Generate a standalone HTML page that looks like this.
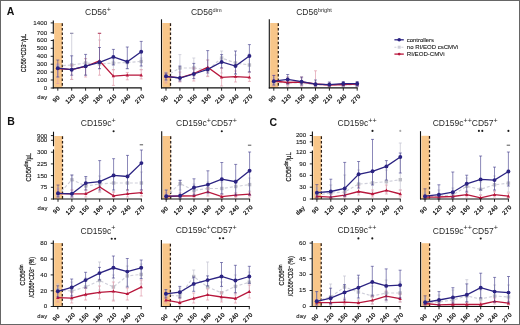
<!DOCTYPE html><html><head><meta charset="utf-8"><style>html,body{margin:0;padding:0;background:#fff;}svg{display:block;filter:blur(0.25px);font-family:"Liberation Sans",sans-serif;}text.t{stroke:#1a1a1a;stroke-width:0.1px;}text.xl{stroke:#1a1a1a;stroke-width:0.3px;}text.yt{stroke:#1a1a1a;stroke-width:0.22px;}</style></head><body>
<svg width="520" height="325" viewBox="0 0 520 325">
<rect x="0" y="0" width="520" height="325" fill="#fff"/>
<rect x="54.2" y="23" width="8.1" height="64.9" fill="#f8c689"/>
<line x1="62.3" y1="23" x2="62.3" y2="87.9" stroke="#2a1c14" stroke-width="1.25" stroke-dasharray="2.6,2.0" stroke-dashoffset="-0.3"/>
<path d="M57.8 64.1V77M56.3 64.1H59.3M56.3 77H59.3" stroke="#c4c4d2" stroke-opacity="0.9" stroke-width="0.8" fill="none"/>
<path d="M71.7 33.3V79.5M70.2 33.3H73.2M70.2 79.5H73.2" stroke="#c4c4d2" stroke-opacity="0.9" stroke-width="0.8" fill="none"/>
<path d="M85.6 58.6V75M84.1 58.6H87.1M84.1 75H87.1" stroke="#c4c4d2" stroke-opacity="0.9" stroke-width="0.8" fill="none"/>
<path d="M99.5 40V68.7M98 40H101M98 68.7H101" stroke="#c4c4d2" stroke-opacity="0.9" stroke-width="0.8" fill="none"/>
<path d="M113.4 60V69.7M111.9 60H114.9M111.9 69.7H114.9" stroke="#c4c4d2" stroke-opacity="0.9" stroke-width="0.8" fill="none"/>
<path d="M127.3 60V68.7M125.8 60H128.8M125.8 68.7H128.8" stroke="#c4c4d2" stroke-opacity="0.9" stroke-width="0.8" fill="none"/>
<path d="M141.2 58V69.7M139.7 58H142.7M139.7 69.7H142.7" stroke="#c4c4d2" stroke-opacity="0.9" stroke-width="0.8" fill="none"/>
<polyline points="57.8,66 71.7,65 85.6,63 99.5,64 113.4,63 127.3,62.5 141.2,61.4" fill="none" stroke="#cfcfda" stroke-width="1.15" stroke-dasharray="3,2"/>
<rect x="56.1" y="64.3" width="3.4" height="3.4" fill="#bdbdc6"/>
<rect x="70" y="63.3" width="3.4" height="3.4" fill="#bdbdc6"/>
<rect x="83.9" y="61.3" width="3.4" height="3.4" fill="#bdbdc6"/>
<rect x="97.8" y="62.3" width="3.4" height="3.4" fill="#bdbdc6"/>
<rect x="111.7" y="61.3" width="3.4" height="3.4" fill="#bdbdc6"/>
<rect x="125.6" y="60.8" width="3.4" height="3.4" fill="#bdbdc6"/>
<rect x="139.5" y="59.7" width="3.4" height="3.4" fill="#bdbdc6"/>
<path d="M57.8 64V83.5M56.3 64H59.3M56.3 83.5H59.3" stroke="#e09aab" stroke-opacity="0.85" stroke-width="0.8" fill="none"/>
<path d="M71.7 65V79.4M70.2 65H73.2M70.2 79.4H73.2" stroke="#e09aab" stroke-opacity="0.85" stroke-width="0.8" fill="none"/>
<path d="M85.6 58.6V77M84.1 58.6H87.1M84.1 77H87.1" stroke="#e09aab" stroke-opacity="0.85" stroke-width="0.8" fill="none"/>
<path d="M99.5 33.3V75.2M98 33.3H101M98 75.2H101" stroke="#e09aab" stroke-opacity="0.85" stroke-width="0.8" fill="none"/>
<path d="M113.4 69.7V85.4M111.9 69.7H114.9M111.9 85.4H114.9" stroke="#e09aab" stroke-opacity="0.85" stroke-width="0.8" fill="none"/>
<path d="M127.3 72.4V79.8M125.8 72.4H128.8M125.8 79.8H128.8" stroke="#e09aab" stroke-opacity="0.85" stroke-width="0.8" fill="none"/>
<path d="M141.2 69.7V78.9M139.7 69.7H142.7M139.7 78.9H142.7" stroke="#e09aab" stroke-opacity="0.85" stroke-width="0.8" fill="none"/>
<polyline points="57.8,68.5 71.7,69.7 85.6,66.5 99.5,60.8 113.4,76.1 127.3,75.2 141.2,75.2" fill="none" stroke="#b8173c" stroke-width="1.3"/>
<path d="M57.8 66.6L59.5 69.7H56.1Z" fill="#b8173c"/>
<path d="M71.7 67.8L73.4 70.9H70Z" fill="#b8173c"/>
<path d="M85.6 64.6L87.3 67.7H83.9Z" fill="#b8173c"/>
<path d="M99.5 58.9L101.2 62H97.8Z" fill="#b8173c"/>
<path d="M113.4 74.2L115.1 77.3H111.7Z" fill="#b8173c"/>
<path d="M127.3 73.3L129 76.4H125.6Z" fill="#b8173c"/>
<path d="M141.2 73.3L142.9 76.4H139.5Z" fill="#b8173c"/>
<path d="M57.8 60V77M56.3 60H59.3M56.3 77H59.3" stroke="#3a3588" stroke-opacity="0.9" stroke-width="0.65" fill="none"/>
<path d="M71.7 55.8V75.2M70.2 55.8H73.2M70.2 75.2H73.2" stroke="#3a3588" stroke-opacity="0.9" stroke-width="0.65" fill="none"/>
<path d="M85.6 54.4V75.2M84.1 54.4H87.1M84.1 75.2H87.1" stroke="#3a3588" stroke-opacity="0.9" stroke-width="0.65" fill="none"/>
<path d="M99.5 47.5V68.7M98 47.5H101M98 68.7H101" stroke="#3a3588" stroke-opacity="0.9" stroke-width="0.65" fill="none"/>
<path d="M113.4 49.4V65M111.9 49.4H114.9M111.9 65H114.9" stroke="#3a3588" stroke-opacity="0.9" stroke-width="0.65" fill="none"/>
<path d="M127.3 47V68.7M125.8 47H128.8M125.8 68.7H128.8" stroke="#3a3588" stroke-opacity="0.9" stroke-width="0.65" fill="none"/>
<path d="M141.2 41.4V66M139.7 41.4H142.7M139.7 66H142.7" stroke="#3a3588" stroke-opacity="0.9" stroke-width="0.65" fill="none"/>
<polyline points="57.8,68.2 71.7,69.7 85.6,66.2 99.5,62.3 113.4,56.9 127.3,61.7 141.2,51.8" fill="none" stroke="#2b2382" stroke-width="1.3"/>
<circle cx="57.8" cy="68.2" r="1.95" fill="#2b2382"/>
<circle cx="71.7" cy="69.7" r="1.95" fill="#2b2382"/>
<circle cx="85.6" cy="66.2" r="1.95" fill="#2b2382"/>
<circle cx="99.5" cy="62.3" r="1.95" fill="#2b2382"/>
<circle cx="113.4" cy="56.9" r="1.95" fill="#2b2382"/>
<circle cx="127.3" cy="61.7" r="1.95" fill="#2b2382"/>
<circle cx="141.2" cy="51.8" r="1.95" fill="#2b2382"/>
<line x1="70" y1="33.3" x2="73.4" y2="33.3" stroke="#8a88a8" stroke-width="1.0" />
<line x1="97.8" y1="33.3" x2="101.2" y2="33.3" stroke="#b04060" stroke-width="1.0" />
<line x1="53.3" y1="20.5" x2="53.3" y2="33.8" stroke="#111" stroke-width="1.1" />
<line x1="53.3" y1="39.2" x2="53.3" y2="88.4" stroke="#111" stroke-width="1.1" />
<line x1="52.8" y1="87.9" x2="141.7" y2="87.9" stroke="#111" stroke-width="1.1" />
<line x1="57.8" y1="87.9" x2="57.8" y2="90.7" stroke="#111" stroke-width="0.9" />
<line x1="71.7" y1="87.9" x2="71.7" y2="90.7" stroke="#111" stroke-width="0.9" />
<line x1="85.6" y1="87.9" x2="85.6" y2="90.7" stroke="#111" stroke-width="0.9" />
<line x1="99.5" y1="87.9" x2="99.5" y2="90.7" stroke="#111" stroke-width="0.9" />
<line x1="113.4" y1="87.9" x2="113.4" y2="90.7" stroke="#111" stroke-width="0.9" />
<line x1="127.3" y1="87.9" x2="127.3" y2="90.7" stroke="#111" stroke-width="0.9" />
<line x1="141.2" y1="87.9" x2="141.2" y2="90.7" stroke="#111" stroke-width="0.9" />
<line x1="50.7" y1="22.9" x2="53.3" y2="22.9" stroke="#111" stroke-width="0.9" />
<text transform="translate(47.1,24.8) scale(1.15,1)" font-size="5.4" text-anchor="end" fill="#1a1a1a" class="t">1400</text>
<line x1="50.7" y1="32.8" x2="53.3" y2="32.8" stroke="#111" stroke-width="0.9" />
<text transform="translate(47.1,34.7) scale(1.15,1)" font-size="5.4" text-anchor="end" fill="#1a1a1a" class="t">700</text>
<line x1="50.7" y1="40.5" x2="53.3" y2="40.5" stroke="#111" stroke-width="0.9" />
<text transform="translate(47.1,42.4) scale(1.15,1)" font-size="5.4" text-anchor="end" fill="#1a1a1a" class="t">600</text>
<line x1="50.7" y1="48.3" x2="53.3" y2="48.3" stroke="#111" stroke-width="0.9" />
<text transform="translate(47.1,50.2) scale(1.15,1)" font-size="5.4" text-anchor="end" fill="#1a1a1a" class="t">500</text>
<line x1="50.7" y1="56.3" x2="53.3" y2="56.3" stroke="#111" stroke-width="0.9" />
<text transform="translate(47.1,58.2) scale(1.15,1)" font-size="5.4" text-anchor="end" fill="#1a1a1a" class="t">400</text>
<line x1="50.7" y1="64.2" x2="53.3" y2="64.2" stroke="#111" stroke-width="0.9" />
<text transform="translate(47.1,66.1) scale(1.15,1)" font-size="5.4" text-anchor="end" fill="#1a1a1a" class="t">300</text>
<line x1="50.7" y1="72.1" x2="53.3" y2="72.1" stroke="#111" stroke-width="0.9" />
<text transform="translate(47.1,74) scale(1.15,1)" font-size="5.4" text-anchor="end" fill="#1a1a1a" class="t">200</text>
<line x1="50.7" y1="80" x2="53.3" y2="80" stroke="#111" stroke-width="0.9" />
<text transform="translate(47.1,81.9) scale(1.15,1)" font-size="5.4" text-anchor="end" fill="#1a1a1a" class="t">100</text>
<line x1="50.7" y1="88" x2="53.3" y2="88" stroke="#111" stroke-width="0.9" />
<text transform="translate(47.1,89.9) scale(1.15,1)" font-size="5.4" text-anchor="end" fill="#1a1a1a" class="t">0</text>
<text transform="translate(57.7,100.2) rotate(-45)" font-size="5.8" text-anchor="middle" fill="#1a1a1a" letter-spacing="0.45" class="xl">90</text>
<text transform="translate(71.6,100.2) rotate(-45)" font-size="5.8" text-anchor="middle" fill="#1a1a1a" letter-spacing="0.45" class="xl">120</text>
<text transform="translate(85.5,100.2) rotate(-45)" font-size="5.8" text-anchor="middle" fill="#1a1a1a" letter-spacing="0.45" class="xl">150</text>
<text transform="translate(99.4,100.2) rotate(-45)" font-size="5.8" text-anchor="middle" fill="#1a1a1a" letter-spacing="0.45" class="xl">180</text>
<text transform="translate(113.3,100.2) rotate(-45)" font-size="5.8" text-anchor="middle" fill="#1a1a1a" letter-spacing="0.45" class="xl">210</text>
<text transform="translate(127.2,100.2) rotate(-45)" font-size="5.8" text-anchor="middle" fill="#1a1a1a" letter-spacing="0.45" class="xl">240</text>
<text transform="translate(141.1,100.2) rotate(-45)" font-size="5.8" text-anchor="middle" fill="#1a1a1a" letter-spacing="0.45" class="xl">270</text>
<text x="42.4" y="99.3" font-size="5.9" text-anchor="middle" fill="#1a1a1a" font-weight="normal" letter-spacing="0.2" class="t">day</text>
<text x="98.05" y="15.4" font-size="8.5" text-anchor="middle" fill="#2a2a2a"><tspan dy="0">CD56</tspan><tspan font-size="7.2" dy="-3.3">+</tspan></text>
<rect x="162.4" y="23" width="8.1" height="64.9" fill="#f8c689"/>
<line x1="170.5" y1="23" x2="170.5" y2="87.9" stroke="#2a1c14" stroke-width="1.25" stroke-dasharray="2.6,2.0" stroke-dashoffset="-0.3"/>
<path d="M166 72V81M164.5 72H167.5M164.5 81H167.5" stroke="#c4c4d2" stroke-opacity="0.9" stroke-width="0.8" fill="none"/>
<path d="M179.9 54.6V81M178.4 54.6H181.4M178.4 81H181.4" stroke="#c4c4d2" stroke-opacity="0.9" stroke-width="0.8" fill="none"/>
<path d="M193.8 58V76M192.3 58H195.3M192.3 76H195.3" stroke="#c4c4d2" stroke-opacity="0.9" stroke-width="0.8" fill="none"/>
<path d="M207.7 60V76M206.2 60H209.2M206.2 76H209.2" stroke="#c4c4d2" stroke-opacity="0.9" stroke-width="0.8" fill="none"/>
<path d="M221.6 51V73M220.1 51H223.1M220.1 73H223.1" stroke="#c4c4d2" stroke-opacity="0.9" stroke-width="0.8" fill="none"/>
<path d="M235.5 55V74M234 55H237M234 74H237" stroke="#c4c4d2" stroke-opacity="0.9" stroke-width="0.8" fill="none"/>
<path d="M249.4 54V72M247.9 54H250.9M247.9 72H250.9" stroke="#c4c4d2" stroke-opacity="0.9" stroke-width="0.8" fill="none"/>
<polyline points="166,76 179.9,68 193.8,68 207.7,70 221.6,58 235.5,63 249.4,65" fill="none" stroke="#cfcfda" stroke-width="1.15" stroke-dasharray="3,2"/>
<rect x="164.3" y="74.3" width="3.4" height="3.4" fill="#bdbdc6"/>
<rect x="178.2" y="66.3" width="3.4" height="3.4" fill="#bdbdc6"/>
<rect x="192.1" y="66.3" width="3.4" height="3.4" fill="#bdbdc6"/>
<rect x="206" y="68.3" width="3.4" height="3.4" fill="#bdbdc6"/>
<rect x="219.9" y="56.3" width="3.4" height="3.4" fill="#bdbdc6"/>
<rect x="233.8" y="61.3" width="3.4" height="3.4" fill="#bdbdc6"/>
<rect x="247.7" y="63.3" width="3.4" height="3.4" fill="#bdbdc6"/>
<path d="M166 73V83M164.5 73H167.5M164.5 83H167.5" stroke="#e09aab" stroke-opacity="0.85" stroke-width="0.8" fill="none"/>
<path d="M179.9 72V82M178.4 72H181.4M178.4 82H181.4" stroke="#e09aab" stroke-opacity="0.85" stroke-width="0.8" fill="none"/>
<path d="M193.8 68V81M192.3 68H195.3M192.3 81H195.3" stroke="#e09aab" stroke-opacity="0.85" stroke-width="0.8" fill="none"/>
<path d="M207.7 60V76.6M206.2 60H209.2M206.2 76.6H209.2" stroke="#e09aab" stroke-opacity="0.85" stroke-width="0.8" fill="none"/>
<path d="M221.6 68V86M220.1 68H223.1M220.1 86H223.1" stroke="#e09aab" stroke-opacity="0.85" stroke-width="0.8" fill="none"/>
<path d="M235.5 71V82M234 71H237M234 82H237" stroke="#e09aab" stroke-opacity="0.85" stroke-width="0.8" fill="none"/>
<path d="M249.4 72V81.4M247.9 72H250.9M247.9 81.4H250.9" stroke="#e09aab" stroke-opacity="0.85" stroke-width="0.8" fill="none"/>
<polyline points="166,76.5 179.9,77.9 193.8,73.5 207.7,67.3 221.6,77.4 235.5,76.6 249.4,77.4" fill="none" stroke="#b8173c" stroke-width="1.3"/>
<path d="M166 74.6L167.7 77.7H164.3Z" fill="#b8173c"/>
<path d="M179.9 76L181.6 79.1H178.2Z" fill="#b8173c"/>
<path d="M193.8 71.6L195.5 74.7H192.1Z" fill="#b8173c"/>
<path d="M207.7 65.4L209.4 68.5H206Z" fill="#b8173c"/>
<path d="M221.6 75.5L223.3 78.6H219.9Z" fill="#b8173c"/>
<path d="M235.5 74.7L237.2 77.8H233.8Z" fill="#b8173c"/>
<path d="M249.4 75.5L251.1 78.6H247.7Z" fill="#b8173c"/>
<path d="M166 73V80M164.5 73H167.5M164.5 80H167.5" stroke="#3a3588" stroke-opacity="0.9" stroke-width="0.65" fill="none"/>
<path d="M179.9 66V81M178.4 66H181.4M178.4 81H181.4" stroke="#3a3588" stroke-opacity="0.9" stroke-width="0.65" fill="none"/>
<path d="M193.8 63.4V78.6M192.3 63.4H195.3M192.3 78.6H195.3" stroke="#3a3588" stroke-opacity="0.9" stroke-width="0.65" fill="none"/>
<path d="M207.7 50.6V73M206.2 50.6H209.2M206.2 73H209.2" stroke="#3a3588" stroke-opacity="0.9" stroke-width="0.65" fill="none"/>
<path d="M221.6 54.6V68M220.1 54.6H223.1M220.1 68H223.1" stroke="#3a3588" stroke-opacity="0.9" stroke-width="0.65" fill="none"/>
<path d="M235.5 51V74M234 51H237M234 74H237" stroke="#3a3588" stroke-opacity="0.9" stroke-width="0.65" fill="none"/>
<path d="M249.4 44.6V72M247.9 44.6H250.9M247.9 72H250.9" stroke="#3a3588" stroke-opacity="0.9" stroke-width="0.65" fill="none"/>
<polyline points="166,76.3 179.9,78 193.8,74 207.7,69.4 221.6,62 235.5,66 249.4,56" fill="none" stroke="#2b2382" stroke-width="1.3"/>
<circle cx="166" cy="76.3" r="1.95" fill="#2b2382"/>
<circle cx="179.9" cy="78" r="1.95" fill="#2b2382"/>
<circle cx="193.8" cy="74" r="1.95" fill="#2b2382"/>
<circle cx="207.7" cy="69.4" r="1.95" fill="#2b2382"/>
<circle cx="221.6" cy="62" r="1.95" fill="#2b2382"/>
<circle cx="235.5" cy="66" r="1.95" fill="#2b2382"/>
<circle cx="249.4" cy="56" r="1.95" fill="#2b2382"/>
<line x1="161.5" y1="19.3" x2="161.5" y2="88.4" stroke="#111" stroke-width="1.1" />
<line x1="161" y1="87.9" x2="249.9" y2="87.9" stroke="#111" stroke-width="1.1" />
<line x1="166" y1="87.9" x2="166" y2="90.7" stroke="#111" stroke-width="0.9" />
<line x1="179.9" y1="87.9" x2="179.9" y2="90.7" stroke="#111" stroke-width="0.9" />
<line x1="193.8" y1="87.9" x2="193.8" y2="90.7" stroke="#111" stroke-width="0.9" />
<line x1="207.7" y1="87.9" x2="207.7" y2="90.7" stroke="#111" stroke-width="0.9" />
<line x1="221.6" y1="87.9" x2="221.6" y2="90.7" stroke="#111" stroke-width="0.9" />
<line x1="235.5" y1="87.9" x2="235.5" y2="90.7" stroke="#111" stroke-width="0.9" />
<line x1="249.4" y1="87.9" x2="249.4" y2="90.7" stroke="#111" stroke-width="0.9" />
<text transform="translate(165.9,100.2) rotate(-45)" font-size="5.8" text-anchor="middle" fill="#1a1a1a" letter-spacing="0.45" class="xl">90</text>
<text transform="translate(179.8,100.2) rotate(-45)" font-size="5.8" text-anchor="middle" fill="#1a1a1a" letter-spacing="0.45" class="xl">120</text>
<text transform="translate(193.7,100.2) rotate(-45)" font-size="5.8" text-anchor="middle" fill="#1a1a1a" letter-spacing="0.45" class="xl">150</text>
<text transform="translate(207.6,100.2) rotate(-45)" font-size="5.8" text-anchor="middle" fill="#1a1a1a" letter-spacing="0.45" class="xl">180</text>
<text transform="translate(221.5,100.2) rotate(-45)" font-size="5.8" text-anchor="middle" fill="#1a1a1a" letter-spacing="0.45" class="xl">210</text>
<text transform="translate(235.4,100.2) rotate(-45)" font-size="5.8" text-anchor="middle" fill="#1a1a1a" letter-spacing="0.45" class="xl">240</text>
<text transform="translate(249.3,100.2) rotate(-45)" font-size="5.8" text-anchor="middle" fill="#1a1a1a" letter-spacing="0.45" class="xl">270</text>
<text x="206.25" y="15.2" font-size="8.5" text-anchor="middle" fill="#2a2a2a"><tspan dy="0">CD56</tspan><tspan font-size="5.6" dy="-3.3">dim</tspan></text>
<rect x="270.2" y="23" width="8.1" height="64.9" fill="#f8c689"/>
<line x1="278.3" y1="23" x2="278.3" y2="87.9" stroke="#2a1c14" stroke-width="1.25" stroke-dasharray="2.6,2.0" stroke-dashoffset="-0.3"/>
<path d="M273.8 78V85M272.3 78H275.3M272.3 85H275.3" stroke="#c4c4d2" stroke-opacity="0.9" stroke-width="0.8" fill="none"/>
<path d="M287.7 77V86M286.2 77H289.2M286.2 86H289.2" stroke="#c4c4d2" stroke-opacity="0.9" stroke-width="0.8" fill="none"/>
<path d="M301.6 78V86M300.1 78H303.1M300.1 86H303.1" stroke="#c4c4d2" stroke-opacity="0.9" stroke-width="0.8" fill="none"/>
<path d="M315.5 82V87M314 82H317M314 87H317" stroke="#c4c4d2" stroke-opacity="0.9" stroke-width="0.8" fill="none"/>
<path d="M329.4 83V87M327.9 83H330.9M327.9 87H330.9" stroke="#c4c4d2" stroke-opacity="0.9" stroke-width="0.8" fill="none"/>
<path d="M343.3 83V87M341.8 83H344.8M341.8 87H344.8" stroke="#c4c4d2" stroke-opacity="0.9" stroke-width="0.8" fill="none"/>
<path d="M357.2 83V87M355.7 83H358.7M355.7 87H358.7" stroke="#c4c4d2" stroke-opacity="0.9" stroke-width="0.8" fill="none"/>
<polyline points="273.8,82 287.7,83 301.6,83 315.5,85 329.4,85 343.3,85 357.2,85" fill="none" stroke="#cfcfda" stroke-width="1.15" stroke-dasharray="3,2"/>
<rect x="272.1" y="80.3" width="3.4" height="3.4" fill="#bdbdc6"/>
<rect x="286" y="81.3" width="3.4" height="3.4" fill="#bdbdc6"/>
<rect x="299.9" y="81.3" width="3.4" height="3.4" fill="#bdbdc6"/>
<rect x="313.8" y="83.3" width="3.4" height="3.4" fill="#bdbdc6"/>
<rect x="327.7" y="83.3" width="3.4" height="3.4" fill="#bdbdc6"/>
<rect x="341.6" y="83.3" width="3.4" height="3.4" fill="#bdbdc6"/>
<rect x="355.5" y="83.3" width="3.4" height="3.4" fill="#bdbdc6"/>
<path d="M273.8 75V86M272.3 75H275.3M272.3 86H275.3" stroke="#e09aab" stroke-opacity="0.85" stroke-width="0.8" fill="none"/>
<path d="M287.7 77V86M286.2 77H289.2M286.2 86H289.2" stroke="#e09aab" stroke-opacity="0.85" stroke-width="0.8" fill="none"/>
<path d="M301.6 77V86M300.1 77H303.1M300.1 86H303.1" stroke="#e09aab" stroke-opacity="0.85" stroke-width="0.8" fill="none"/>
<path d="M315.5 70.8V87M314 70.8H317M314 87H317" stroke="#e09aab" stroke-opacity="0.85" stroke-width="0.8" fill="none"/>
<path d="M329.4 83V87M327.9 83H330.9M327.9 87H330.9" stroke="#e09aab" stroke-opacity="0.85" stroke-width="0.8" fill="none"/>
<path d="M343.3 83V86M341.8 83H344.8M341.8 86H344.8" stroke="#e09aab" stroke-opacity="0.85" stroke-width="0.8" fill="none"/>
<path d="M357.2 83V86M355.7 83H358.7M355.7 86H358.7" stroke="#e09aab" stroke-opacity="0.85" stroke-width="0.8" fill="none"/>
<polyline points="273.8,81 287.7,82.5 301.6,82 315.5,84 329.4,85 343.3,84.5 357.2,84" fill="none" stroke="#b8173c" stroke-width="1.3"/>
<path d="M273.8 79.1L275.5 82.2H272.1Z" fill="#b8173c"/>
<path d="M287.7 80.6L289.4 83.7H286Z" fill="#b8173c"/>
<path d="M301.6 80.1L303.3 83.2H299.9Z" fill="#b8173c"/>
<path d="M315.5 82.1L317.2 85.2H313.8Z" fill="#b8173c"/>
<path d="M329.4 83.1L331.1 86.2H327.7Z" fill="#b8173c"/>
<path d="M343.3 82.6L345 85.7H341.6Z" fill="#b8173c"/>
<path d="M357.2 82.1L358.9 85.2H355.5Z" fill="#b8173c"/>
<path d="M273.8 75.5V85M272.3 75.5H275.3M272.3 85H275.3" stroke="#3a3588" stroke-opacity="0.9" stroke-width="0.65" fill="none"/>
<path d="M287.7 74.5V84M286.2 74.5H289.2M286.2 84H289.2" stroke="#3a3588" stroke-opacity="0.9" stroke-width="0.65" fill="none"/>
<path d="M301.6 77V85M300.1 77H303.1M300.1 85H303.1" stroke="#3a3588" stroke-opacity="0.9" stroke-width="0.65" fill="none"/>
<path d="M315.5 80V86M314 80H317M314 86H317" stroke="#3a3588" stroke-opacity="0.9" stroke-width="0.65" fill="none"/>
<path d="M329.4 82V86M327.9 82H330.9M327.9 86H330.9" stroke="#3a3588" stroke-opacity="0.9" stroke-width="0.65" fill="none"/>
<path d="M343.3 81.5V86M341.8 81.5H344.8M341.8 86H344.8" stroke="#3a3588" stroke-opacity="0.9" stroke-width="0.65" fill="none"/>
<path d="M357.2 81.5V86M355.7 81.5H358.7M355.7 86H358.7" stroke="#3a3588" stroke-opacity="0.9" stroke-width="0.65" fill="none"/>
<polyline points="273.8,81.2 287.7,79.4 301.6,81.7 315.5,84.2 329.4,84.6 343.3,83.7 357.2,83.7" fill="none" stroke="#2b2382" stroke-width="1.3"/>
<circle cx="273.8" cy="81.2" r="1.95" fill="#2b2382"/>
<circle cx="287.7" cy="79.4" r="1.95" fill="#2b2382"/>
<circle cx="301.6" cy="81.7" r="1.95" fill="#2b2382"/>
<circle cx="315.5" cy="84.2" r="1.95" fill="#2b2382"/>
<circle cx="329.4" cy="84.6" r="1.95" fill="#2b2382"/>
<circle cx="343.3" cy="83.7" r="1.95" fill="#2b2382"/>
<circle cx="357.2" cy="83.7" r="1.95" fill="#2b2382"/>
<line x1="269.3" y1="19.3" x2="269.3" y2="88.4" stroke="#111" stroke-width="1.1" />
<line x1="268.8" y1="87.9" x2="357.7" y2="87.9" stroke="#111" stroke-width="1.1" />
<line x1="273.8" y1="87.9" x2="273.8" y2="90.7" stroke="#111" stroke-width="0.9" />
<line x1="287.7" y1="87.9" x2="287.7" y2="90.7" stroke="#111" stroke-width="0.9" />
<line x1="301.6" y1="87.9" x2="301.6" y2="90.7" stroke="#111" stroke-width="0.9" />
<line x1="315.5" y1="87.9" x2="315.5" y2="90.7" stroke="#111" stroke-width="0.9" />
<line x1="329.4" y1="87.9" x2="329.4" y2="90.7" stroke="#111" stroke-width="0.9" />
<line x1="343.3" y1="87.9" x2="343.3" y2="90.7" stroke="#111" stroke-width="0.9" />
<line x1="357.2" y1="87.9" x2="357.2" y2="90.7" stroke="#111" stroke-width="0.9" />
<text transform="translate(273.7,100.2) rotate(-45)" font-size="5.8" text-anchor="middle" fill="#1a1a1a" letter-spacing="0.45" class="xl">90</text>
<text transform="translate(287.6,100.2) rotate(-45)" font-size="5.8" text-anchor="middle" fill="#1a1a1a" letter-spacing="0.45" class="xl">120</text>
<text transform="translate(301.5,100.2) rotate(-45)" font-size="5.8" text-anchor="middle" fill="#1a1a1a" letter-spacing="0.45" class="xl">150</text>
<text transform="translate(315.4,100.2) rotate(-45)" font-size="5.8" text-anchor="middle" fill="#1a1a1a" letter-spacing="0.45" class="xl">180</text>
<text transform="translate(329.3,100.2) rotate(-45)" font-size="5.8" text-anchor="middle" fill="#1a1a1a" letter-spacing="0.45" class="xl">210</text>
<text transform="translate(343.2,100.2) rotate(-45)" font-size="5.8" text-anchor="middle" fill="#1a1a1a" letter-spacing="0.45" class="xl">240</text>
<text transform="translate(357.1,100.2) rotate(-45)" font-size="5.8" text-anchor="middle" fill="#1a1a1a" letter-spacing="0.45" class="xl">270</text>
<text x="314.05" y="15.2" font-size="8.5" text-anchor="middle" fill="#2a2a2a"><tspan dy="0">CD56</tspan><tspan font-size="5.6" dy="-3.3">bright</tspan></text>
<rect x="54.4" y="136" width="8.1" height="63" fill="#f8c689"/>
<line x1="62.5" y1="136" x2="62.5" y2="199" stroke="#2a1c14" stroke-width="1.25" stroke-dasharray="2.6,2.0" stroke-dashoffset="-0.3"/>
<path d="M58 188V199M56.5 188H59.5M56.5 199H59.5" stroke="#c4c4d2" stroke-opacity="0.9" stroke-width="0.8" fill="none"/>
<path d="M71.9 175V190M70.4 175H73.4M70.4 190H73.4" stroke="#c4c4d2" stroke-opacity="0.9" stroke-width="0.8" fill="none"/>
<path d="M85.8 178V193M84.3 178H87.3M84.3 193H87.3" stroke="#c4c4d2" stroke-opacity="0.9" stroke-width="0.8" fill="none"/>
<path d="M99.7 176V192M98.2 176H101.2M98.2 192H101.2" stroke="#c4c4d2" stroke-opacity="0.9" stroke-width="0.8" fill="none"/>
<path d="M113.6 174V192M112.1 174H115.1M112.1 192H115.1" stroke="#c4c4d2" stroke-opacity="0.9" stroke-width="0.8" fill="none"/>
<path d="M127.5 175V192M126 175H129M126 192H129" stroke="#c4c4d2" stroke-opacity="0.9" stroke-width="0.8" fill="none"/>
<path d="M141.4 172V192M139.9 172H142.9M139.9 192H142.9" stroke="#c4c4d2" stroke-opacity="0.9" stroke-width="0.8" fill="none"/>
<polyline points="58,195 71.9,179.8 85.8,186 99.7,184 113.6,183 127.5,183 141.4,183" fill="none" stroke="#cfcfda" stroke-width="1.15" stroke-dasharray="3,2"/>
<rect x="56.3" y="193.3" width="3.4" height="3.4" fill="#bdbdc6"/>
<rect x="70.2" y="178.1" width="3.4" height="3.4" fill="#bdbdc6"/>
<rect x="84.1" y="184.3" width="3.4" height="3.4" fill="#bdbdc6"/>
<rect x="98" y="182.3" width="3.4" height="3.4" fill="#bdbdc6"/>
<rect x="111.9" y="181.3" width="3.4" height="3.4" fill="#bdbdc6"/>
<rect x="125.8" y="181.3" width="3.4" height="3.4" fill="#bdbdc6"/>
<rect x="139.7" y="181.3" width="3.4" height="3.4" fill="#bdbdc6"/>
<path d="M58 189V197M56.5 189H59.5M56.5 197H59.5" stroke="#e09aab" stroke-opacity="0.85" stroke-width="0.8" fill="none"/>
<path d="M71.9 190V197M70.4 190H73.4M70.4 197H73.4" stroke="#e09aab" stroke-opacity="0.85" stroke-width="0.8" fill="none"/>
<path d="M85.8 190V197M84.3 190H87.3M84.3 197H87.3" stroke="#e09aab" stroke-opacity="0.85" stroke-width="0.8" fill="none"/>
<path d="M99.7 182V192M98.2 182H101.2M98.2 192H101.2" stroke="#e09aab" stroke-opacity="0.85" stroke-width="0.8" fill="none"/>
<path d="M113.6 192V198M112.1 192H115.1M112.1 198H115.1" stroke="#e09aab" stroke-opacity="0.85" stroke-width="0.8" fill="none"/>
<path d="M127.5 190V197M126 190H129M126 197H129" stroke="#e09aab" stroke-opacity="0.85" stroke-width="0.8" fill="none"/>
<path d="M141.4 190V196M139.9 190H142.9M139.9 196H142.9" stroke="#e09aab" stroke-opacity="0.85" stroke-width="0.8" fill="none"/>
<polyline points="58,193.5 71.9,193.8 85.8,193.8 99.7,186.9 113.6,195.8 127.5,193.8 141.4,192.7" fill="none" stroke="#b8173c" stroke-width="1.3"/>
<path d="M58 191.6L59.7 194.7H56.3Z" fill="#b8173c"/>
<path d="M71.9 191.9L73.6 195H70.2Z" fill="#b8173c"/>
<path d="M85.8 191.9L87.5 195H84.1Z" fill="#b8173c"/>
<path d="M99.7 185L101.4 188.1H98Z" fill="#b8173c"/>
<path d="M113.6 193.9L115.3 197H111.9Z" fill="#b8173c"/>
<path d="M127.5 191.9L129.2 195H125.8Z" fill="#b8173c"/>
<path d="M141.4 190.8L143.1 193.9H139.7Z" fill="#b8173c"/>
<path d="M58 185V197M56.5 185H59.5M56.5 197H59.5" stroke="#3a3588" stroke-opacity="0.9" stroke-width="0.65" fill="none"/>
<path d="M71.9 175V197M70.4 175H73.4M70.4 197H73.4" stroke="#3a3588" stroke-opacity="0.9" stroke-width="0.65" fill="none"/>
<path d="M85.8 176.5V190M84.3 176.5H87.3M84.3 190H87.3" stroke="#3a3588" stroke-opacity="0.9" stroke-width="0.65" fill="none"/>
<path d="M99.7 160.6V190M98.2 160.6H101.2M98.2 190H101.2" stroke="#3a3588" stroke-opacity="0.9" stroke-width="0.65" fill="none"/>
<path d="M113.6 158.7V190M112.1 158.7H115.1M112.1 190H115.1" stroke="#3a3588" stroke-opacity="0.9" stroke-width="0.65" fill="none"/>
<path d="M127.5 155.4V190M126 155.4H129M126 190H129" stroke="#3a3588" stroke-opacity="0.9" stroke-width="0.65" fill="none"/>
<path d="M141.4 150V190M139.9 150H142.9M139.9 190H142.9" stroke="#3a3588" stroke-opacity="0.9" stroke-width="0.65" fill="none"/>
<polyline points="58,193.3 71.9,193.8 85.8,183.1 99.7,181.7 113.6,175.4 127.5,176.5 141.4,163.1" fill="none" stroke="#2b2382" stroke-width="1.3"/>
<circle cx="58" cy="193.3" r="1.95" fill="#2b2382"/>
<circle cx="71.9" cy="193.8" r="1.95" fill="#2b2382"/>
<circle cx="85.8" cy="183.1" r="1.95" fill="#2b2382"/>
<circle cx="99.7" cy="181.7" r="1.95" fill="#2b2382"/>
<circle cx="113.6" cy="175.4" r="1.95" fill="#2b2382"/>
<circle cx="127.5" cy="176.5" r="1.95" fill="#2b2382"/>
<circle cx="141.4" cy="163.1" r="1.95" fill="#2b2382"/>
<line x1="139.7" y1="144.8" x2="143.1" y2="144.8" stroke="#555" stroke-width="1.0" />
<line x1="53.5" y1="131.7" x2="53.5" y2="146.2" stroke="#111" stroke-width="1.1" />
<line x1="53.5" y1="149.4" x2="53.5" y2="199.5" stroke="#111" stroke-width="1.1" />
<line x1="53" y1="199" x2="141.9" y2="199" stroke="#111" stroke-width="1.1" />
<line x1="58" y1="199" x2="58" y2="201.8" stroke="#111" stroke-width="0.9" />
<line x1="71.9" y1="199" x2="71.9" y2="201.8" stroke="#111" stroke-width="0.9" />
<line x1="85.8" y1="199" x2="85.8" y2="201.8" stroke="#111" stroke-width="0.9" />
<line x1="99.7" y1="199" x2="99.7" y2="201.8" stroke="#111" stroke-width="0.9" />
<line x1="113.6" y1="199" x2="113.6" y2="201.8" stroke="#111" stroke-width="0.9" />
<line x1="127.5" y1="199" x2="127.5" y2="201.8" stroke="#111" stroke-width="0.9" />
<line x1="141.4" y1="199" x2="141.4" y2="201.8" stroke="#111" stroke-width="0.9" />
<line x1="50.9" y1="135.6" x2="53.5" y2="135.6" stroke="#111" stroke-width="0.9" />
<text transform="translate(47.3,137.5) scale(1.15,1)" font-size="5.4" text-anchor="end" fill="#1a1a1a" class="t">900</text>
<line x1="50.9" y1="140.3" x2="53.5" y2="140.3" stroke="#111" stroke-width="0.9" />
<text transform="translate(47.3,142.2) scale(1.15,1)" font-size="5.4" text-anchor="end" fill="#1a1a1a" class="t">600</text>
<line x1="50.9" y1="152.2" x2="53.5" y2="152.2" stroke="#111" stroke-width="0.9" />
<text transform="translate(47.3,154.1) scale(1.15,1)" font-size="5.4" text-anchor="end" fill="#1a1a1a" class="t">300</text>
<line x1="50.9" y1="163.9" x2="53.5" y2="163.9" stroke="#111" stroke-width="0.9" />
<text transform="translate(47.3,165.8) scale(1.15,1)" font-size="5.4" text-anchor="end" fill="#1a1a1a" class="t">225</text>
<line x1="50.9" y1="175.6" x2="53.5" y2="175.6" stroke="#111" stroke-width="0.9" />
<text transform="translate(47.3,177.5) scale(1.15,1)" font-size="5.4" text-anchor="end" fill="#1a1a1a" class="t">150</text>
<line x1="50.9" y1="187.3" x2="53.5" y2="187.3" stroke="#111" stroke-width="0.9" />
<text transform="translate(47.3,189.2) scale(1.15,1)" font-size="5.4" text-anchor="end" fill="#1a1a1a" class="t">75</text>
<line x1="50.9" y1="199" x2="53.5" y2="199" stroke="#111" stroke-width="0.9" />
<text transform="translate(47.3,200.9) scale(1.15,1)" font-size="5.4" text-anchor="end" fill="#1a1a1a" class="t">0</text>
<text transform="translate(57.9,211.3) rotate(-45)" font-size="5.8" text-anchor="middle" fill="#1a1a1a" letter-spacing="0.45" class="xl">90</text>
<text transform="translate(71.8,211.3) rotate(-45)" font-size="5.8" text-anchor="middle" fill="#1a1a1a" letter-spacing="0.45" class="xl">120</text>
<text transform="translate(85.7,211.3) rotate(-45)" font-size="5.8" text-anchor="middle" fill="#1a1a1a" letter-spacing="0.45" class="xl">150</text>
<text transform="translate(99.6,211.3) rotate(-45)" font-size="5.8" text-anchor="middle" fill="#1a1a1a" letter-spacing="0.45" class="xl">180</text>
<text transform="translate(113.5,211.3) rotate(-45)" font-size="5.8" text-anchor="middle" fill="#1a1a1a" letter-spacing="0.45" class="xl">210</text>
<text transform="translate(127.4,211.3) rotate(-45)" font-size="5.8" text-anchor="middle" fill="#1a1a1a" letter-spacing="0.45" class="xl">240</text>
<text transform="translate(141.3,211.3) rotate(-45)" font-size="5.8" text-anchor="middle" fill="#1a1a1a" letter-spacing="0.45" class="xl">270</text>
<text x="42.6" y="210.4" font-size="5.9" text-anchor="middle" fill="#1a1a1a" font-weight="normal" letter-spacing="0.2" class="t">day</text>
<text x="98.25" y="126.2" font-size="8.5" text-anchor="middle" fill="#2a2a2a"><tspan dy="0">CD159c</tspan><tspan font-size="7.2" dy="-3.3">+</tspan></text>
<circle cx="113.6" cy="131.2" r="1.05" fill="#1a1a1a"/>
<rect x="162.6" y="136" width="8.1" height="63" fill="#f8c689"/>
<line x1="170.7" y1="136" x2="170.7" y2="199" stroke="#2a1c14" stroke-width="1.25" stroke-dasharray="2.6,2.0" stroke-dashoffset="-0.3"/>
<path d="M166.2 190V199M164.7 190H167.7M164.7 199H167.7" stroke="#c4c4d2" stroke-opacity="0.9" stroke-width="0.8" fill="none"/>
<path d="M180.1 180V190M178.6 180H181.6M178.6 190H181.6" stroke="#c4c4d2" stroke-opacity="0.9" stroke-width="0.8" fill="none"/>
<path d="M194 184V195M192.5 184H195.5M192.5 195H195.5" stroke="#c4c4d2" stroke-opacity="0.9" stroke-width="0.8" fill="none"/>
<path d="M207.9 182V194M206.4 182H209.4M206.4 194H209.4" stroke="#c4c4d2" stroke-opacity="0.9" stroke-width="0.8" fill="none"/>
<path d="M221.8 182V194M220.3 182H223.3M220.3 194H223.3" stroke="#c4c4d2" stroke-opacity="0.9" stroke-width="0.8" fill="none"/>
<path d="M235.7 180V193M234.2 180H237.2M234.2 193H237.2" stroke="#c4c4d2" stroke-opacity="0.9" stroke-width="0.8" fill="none"/>
<path d="M249.6 178V191M248.1 178H251.1M248.1 191H251.1" stroke="#c4c4d2" stroke-opacity="0.9" stroke-width="0.8" fill="none"/>
<polyline points="166.2,196 180.1,183.7 194,190.4 207.9,188.5 221.8,188.5 235.7,186.5 249.6,184.6" fill="none" stroke="#cfcfda" stroke-width="1.15" stroke-dasharray="3,2"/>
<rect x="164.5" y="194.3" width="3.4" height="3.4" fill="#bdbdc6"/>
<rect x="178.4" y="182" width="3.4" height="3.4" fill="#bdbdc6"/>
<rect x="192.3" y="188.7" width="3.4" height="3.4" fill="#bdbdc6"/>
<rect x="206.2" y="186.8" width="3.4" height="3.4" fill="#bdbdc6"/>
<rect x="220.1" y="186.8" width="3.4" height="3.4" fill="#bdbdc6"/>
<rect x="234" y="184.8" width="3.4" height="3.4" fill="#bdbdc6"/>
<rect x="247.9" y="182.9" width="3.4" height="3.4" fill="#bdbdc6"/>
<path d="M166.2 193V199M164.7 193H167.7M164.7 199H167.7" stroke="#e09aab" stroke-opacity="0.85" stroke-width="0.8" fill="none"/>
<path d="M180.1 193V198M178.6 193H181.6M178.6 198H181.6" stroke="#e09aab" stroke-opacity="0.85" stroke-width="0.8" fill="none"/>
<path d="M194 193V198M192.5 193H195.5M192.5 198H195.5" stroke="#e09aab" stroke-opacity="0.85" stroke-width="0.8" fill="none"/>
<path d="M207.9 188V196M206.4 188H209.4M206.4 196H209.4" stroke="#e09aab" stroke-opacity="0.85" stroke-width="0.8" fill="none"/>
<path d="M221.8 194V199M220.3 194H223.3M220.3 199H223.3" stroke="#e09aab" stroke-opacity="0.85" stroke-width="0.8" fill="none"/>
<path d="M235.7 193V198M234.2 193H237.2M234.2 198H237.2" stroke="#e09aab" stroke-opacity="0.85" stroke-width="0.8" fill="none"/>
<path d="M249.6 192V197M248.1 192H251.1M248.1 197H251.1" stroke="#e09aab" stroke-opacity="0.85" stroke-width="0.8" fill="none"/>
<polyline points="166.2,196.5 180.1,196 194,195.8 207.9,191.9 221.8,196.7 235.7,195.2 249.6,194.2" fill="none" stroke="#b8173c" stroke-width="1.3"/>
<path d="M166.2 194.6L167.9 197.7H164.5Z" fill="#b8173c"/>
<path d="M180.1 194.1L181.8 197.2H178.4Z" fill="#b8173c"/>
<path d="M194 193.9L195.7 197H192.3Z" fill="#b8173c"/>
<path d="M207.9 190L209.6 193.1H206.2Z" fill="#b8173c"/>
<path d="M221.8 194.8L223.5 197.9H220.1Z" fill="#b8173c"/>
<path d="M235.7 193.3L237.4 196.4H234Z" fill="#b8173c"/>
<path d="M249.6 192.3L251.3 195.4H247.9Z" fill="#b8173c"/>
<path d="M166.2 190V199M164.7 190H167.7M164.7 199H167.7" stroke="#3a3588" stroke-opacity="0.9" stroke-width="0.65" fill="none"/>
<path d="M180.1 180.4V199M178.6 180.4H181.6M178.6 199H181.6" stroke="#3a3588" stroke-opacity="0.9" stroke-width="0.65" fill="none"/>
<path d="M194 178.8V195M192.5 178.8H195.5M192.5 195H195.5" stroke="#3a3588" stroke-opacity="0.9" stroke-width="0.65" fill="none"/>
<path d="M207.9 170.8V193M206.4 170.8H209.4M206.4 193H209.4" stroke="#3a3588" stroke-opacity="0.9" stroke-width="0.65" fill="none"/>
<path d="M221.8 162.5V194M220.3 162.5H223.3M220.3 194H223.3" stroke="#3a3588" stroke-opacity="0.9" stroke-width="0.65" fill="none"/>
<path d="M235.7 164.4V195M234.2 164.4H237.2M234.2 195H237.2" stroke="#3a3588" stroke-opacity="0.9" stroke-width="0.65" fill="none"/>
<path d="M249.6 152V195M248.1 152H251.1M248.1 195H251.1" stroke="#3a3588" stroke-opacity="0.9" stroke-width="0.65" fill="none"/>
<polyline points="166.2,196.2 180.1,195.8 194,187.5 207.9,184.6 221.8,179.2 235.7,181.7 249.6,170.8" fill="none" stroke="#2b2382" stroke-width="1.3"/>
<circle cx="166.2" cy="196.2" r="1.95" fill="#2b2382"/>
<circle cx="180.1" cy="195.8" r="1.95" fill="#2b2382"/>
<circle cx="194" cy="187.5" r="1.95" fill="#2b2382"/>
<circle cx="207.9" cy="184.6" r="1.95" fill="#2b2382"/>
<circle cx="221.8" cy="179.2" r="1.95" fill="#2b2382"/>
<circle cx="235.7" cy="181.7" r="1.95" fill="#2b2382"/>
<circle cx="249.6" cy="170.8" r="1.95" fill="#2b2382"/>
<line x1="247.9" y1="145.2" x2="251.3" y2="145.2" stroke="#555" stroke-width="1.0" />
<line x1="161.7" y1="131.2" x2="161.7" y2="199.5" stroke="#111" stroke-width="1.1" />
<line x1="161.2" y1="199" x2="250.1" y2="199" stroke="#111" stroke-width="1.1" />
<line x1="166.2" y1="199" x2="166.2" y2="201.8" stroke="#111" stroke-width="0.9" />
<line x1="180.1" y1="199" x2="180.1" y2="201.8" stroke="#111" stroke-width="0.9" />
<line x1="194" y1="199" x2="194" y2="201.8" stroke="#111" stroke-width="0.9" />
<line x1="207.9" y1="199" x2="207.9" y2="201.8" stroke="#111" stroke-width="0.9" />
<line x1="221.8" y1="199" x2="221.8" y2="201.8" stroke="#111" stroke-width="0.9" />
<line x1="235.7" y1="199" x2="235.7" y2="201.8" stroke="#111" stroke-width="0.9" />
<line x1="249.6" y1="199" x2="249.6" y2="201.8" stroke="#111" stroke-width="0.9" />
<text transform="translate(166.1,211.3) rotate(-45)" font-size="5.8" text-anchor="middle" fill="#1a1a1a" letter-spacing="0.45" class="xl">90</text>
<text transform="translate(180,211.3) rotate(-45)" font-size="5.8" text-anchor="middle" fill="#1a1a1a" letter-spacing="0.45" class="xl">120</text>
<text transform="translate(193.9,211.3) rotate(-45)" font-size="5.8" text-anchor="middle" fill="#1a1a1a" letter-spacing="0.45" class="xl">150</text>
<text transform="translate(207.8,211.3) rotate(-45)" font-size="5.8" text-anchor="middle" fill="#1a1a1a" letter-spacing="0.45" class="xl">180</text>
<text transform="translate(221.7,211.3) rotate(-45)" font-size="5.8" text-anchor="middle" fill="#1a1a1a" letter-spacing="0.45" class="xl">210</text>
<text transform="translate(235.6,211.3) rotate(-45)" font-size="5.8" text-anchor="middle" fill="#1a1a1a" letter-spacing="0.45" class="xl">240</text>
<text transform="translate(249.5,211.3) rotate(-45)" font-size="5.8" text-anchor="middle" fill="#1a1a1a" letter-spacing="0.45" class="xl">270</text>
<text x="206.45" y="126.2" font-size="8.5" text-anchor="middle" fill="#2a2a2a"><tspan dy="0">CD159c</tspan><tspan font-size="7.2" dy="-3.3">+</tspan><tspan dy="3.3">CD57</tspan><tspan font-size="7.2" dy="-3.3">+</tspan></text>
<circle cx="221.8" cy="131.2" r="1.05" fill="#1a1a1a"/>
<rect x="54.2" y="243" width="8.1" height="63.5" fill="#f8c689"/>
<line x1="62.3" y1="243" x2="62.3" y2="306.5" stroke="#2a1c14" stroke-width="1.25" stroke-dasharray="2.6,2.0" stroke-dashoffset="-0.3"/>
<path d="M57.8 284V297M56.3 284H59.3M56.3 297H59.3" stroke="#c4c4d2" stroke-opacity="0.9" stroke-width="0.8" fill="none"/>
<path d="M71.7 282V300M70.2 282H73.2M70.2 300H73.2" stroke="#c4c4d2" stroke-opacity="0.9" stroke-width="0.8" fill="none"/>
<path d="M85.6 278V296M84.1 278H87.1M84.1 296H87.1" stroke="#c4c4d2" stroke-opacity="0.9" stroke-width="0.8" fill="none"/>
<path d="M99.5 262V290M98 262H101M98 290H101" stroke="#c4c4d2" stroke-opacity="0.9" stroke-width="0.8" fill="none"/>
<path d="M113.4 275V300M111.9 275H114.9M111.9 300H114.9" stroke="#c4c4d2" stroke-opacity="0.9" stroke-width="0.8" fill="none"/>
<path d="M127.3 266V286M125.8 266H128.8M125.8 286H128.8" stroke="#c4c4d2" stroke-opacity="0.9" stroke-width="0.8" fill="none"/>
<path d="M141.2 264V284M139.7 264H142.7M139.7 284H142.7" stroke="#c4c4d2" stroke-opacity="0.9" stroke-width="0.8" fill="none"/>
<polyline points="57.8,290 71.7,291 85.6,287 99.5,280.5 113.4,287 127.3,275.9 141.2,274.4" fill="none" stroke="#cfcfda" stroke-width="1.15" stroke-dasharray="3,2"/>
<rect x="56.1" y="288.3" width="3.4" height="3.4" fill="#bdbdc6"/>
<rect x="70" y="289.3" width="3.4" height="3.4" fill="#bdbdc6"/>
<rect x="83.9" y="285.3" width="3.4" height="3.4" fill="#bdbdc6"/>
<rect x="97.8" y="278.8" width="3.4" height="3.4" fill="#bdbdc6"/>
<rect x="111.7" y="285.3" width="3.4" height="3.4" fill="#bdbdc6"/>
<rect x="125.6" y="274.2" width="3.4" height="3.4" fill="#bdbdc6"/>
<rect x="139.5" y="272.7" width="3.4" height="3.4" fill="#bdbdc6"/>
<path d="M57.8 293V302M56.3 293H59.3M56.3 302H59.3" stroke="#e09aab" stroke-opacity="0.85" stroke-width="0.8" fill="none"/>
<path d="M71.7 292V303M70.2 292H73.2M70.2 303H73.2" stroke="#e09aab" stroke-opacity="0.85" stroke-width="0.8" fill="none"/>
<path d="M85.6 288V300M84.1 288H87.1M84.1 300H87.1" stroke="#e09aab" stroke-opacity="0.85" stroke-width="0.8" fill="none"/>
<path d="M99.5 286V299M98 286H101M98 299H101" stroke="#e09aab" stroke-opacity="0.85" stroke-width="0.8" fill="none"/>
<path d="M113.4 282V301M111.9 282H114.9M111.9 301H114.9" stroke="#e09aab" stroke-opacity="0.85" stroke-width="0.8" fill="none"/>
<path d="M127.3 288V300M125.8 288H128.8M125.8 300H128.8" stroke="#e09aab" stroke-opacity="0.85" stroke-width="0.8" fill="none"/>
<path d="M141.2 280V296M139.7 280H142.7M139.7 296H142.7" stroke="#e09aab" stroke-opacity="0.85" stroke-width="0.8" fill="none"/>
<polyline points="57.8,297.7 71.7,298.1 85.6,294.5 99.5,292.4 113.4,291.3 127.3,293.8 141.2,287.1" fill="none" stroke="#b8173c" stroke-width="1.3"/>
<path d="M57.8 295.8L59.5 298.9H56.1Z" fill="#b8173c"/>
<path d="M71.7 296.2L73.4 299.3H70Z" fill="#b8173c"/>
<path d="M85.6 292.6L87.3 295.7H83.9Z" fill="#b8173c"/>
<path d="M99.5 290.5L101.2 293.6H97.8Z" fill="#b8173c"/>
<path d="M113.4 289.4L115.1 292.5H111.7Z" fill="#b8173c"/>
<path d="M127.3 291.9L129 295H125.6Z" fill="#b8173c"/>
<path d="M141.2 285.2L142.9 288.3H139.5Z" fill="#b8173c"/>
<path d="M57.8 285.8V297M56.3 285.8H59.3M56.3 297H59.3" stroke="#3a3588" stroke-opacity="0.9" stroke-width="0.65" fill="none"/>
<path d="M71.7 279V296M70.2 279H73.2M70.2 296H73.2" stroke="#3a3588" stroke-opacity="0.9" stroke-width="0.65" fill="none"/>
<path d="M85.6 272.3V288M84.1 272.3H87.1M84.1 288H87.1" stroke="#3a3588" stroke-opacity="0.9" stroke-width="0.65" fill="none"/>
<path d="M99.5 267.4V280M98 267.4H101M98 280H101" stroke="#3a3588" stroke-opacity="0.9" stroke-width="0.65" fill="none"/>
<path d="M113.4 256V278M111.9 256H114.9M111.9 278H114.9" stroke="#3a3588" stroke-opacity="0.9" stroke-width="0.65" fill="none"/>
<path d="M127.3 258.5V287M125.8 258.5H128.8M125.8 287H128.8" stroke="#3a3588" stroke-opacity="0.9" stroke-width="0.65" fill="none"/>
<path d="M141.2 260V278.6M139.7 260H142.7M139.7 278.6H142.7" stroke="#3a3588" stroke-opacity="0.9" stroke-width="0.65" fill="none"/>
<polyline points="57.8,291.3 71.7,287.5 85.6,280.1 99.5,273.1 113.4,267.8 127.3,271.6 141.2,267.8" fill="none" stroke="#2b2382" stroke-width="1.3"/>
<circle cx="57.8" cy="291.3" r="1.95" fill="#2b2382"/>
<circle cx="71.7" cy="287.5" r="1.95" fill="#2b2382"/>
<circle cx="85.6" cy="280.1" r="1.95" fill="#2b2382"/>
<circle cx="99.5" cy="273.1" r="1.95" fill="#2b2382"/>
<circle cx="113.4" cy="267.8" r="1.95" fill="#2b2382"/>
<circle cx="127.3" cy="271.6" r="1.95" fill="#2b2382"/>
<circle cx="141.2" cy="267.8" r="1.95" fill="#2b2382"/>
<line x1="53.3" y1="240.6" x2="53.3" y2="307" stroke="#111" stroke-width="1.1" />
<line x1="52.8" y1="306.5" x2="141.7" y2="306.5" stroke="#111" stroke-width="1.1" />
<line x1="57.8" y1="306.5" x2="57.8" y2="309.3" stroke="#111" stroke-width="0.9" />
<line x1="71.7" y1="306.5" x2="71.7" y2="309.3" stroke="#111" stroke-width="0.9" />
<line x1="85.6" y1="306.5" x2="85.6" y2="309.3" stroke="#111" stroke-width="0.9" />
<line x1="99.5" y1="306.5" x2="99.5" y2="309.3" stroke="#111" stroke-width="0.9" />
<line x1="113.4" y1="306.5" x2="113.4" y2="309.3" stroke="#111" stroke-width="0.9" />
<line x1="127.3" y1="306.5" x2="127.3" y2="309.3" stroke="#111" stroke-width="0.9" />
<line x1="141.2" y1="306.5" x2="141.2" y2="309.3" stroke="#111" stroke-width="0.9" />
<line x1="50.7" y1="243.3" x2="53.3" y2="243.3" stroke="#111" stroke-width="0.9" />
<text transform="translate(47.1,245.2) scale(1.15,1)" font-size="5.4" text-anchor="end" fill="#1a1a1a" class="t">80</text>
<line x1="50.7" y1="259.1" x2="53.3" y2="259.1" stroke="#111" stroke-width="0.9" />
<text transform="translate(47.1,261) scale(1.15,1)" font-size="5.4" text-anchor="end" fill="#1a1a1a" class="t">60</text>
<line x1="50.7" y1="274.9" x2="53.3" y2="274.9" stroke="#111" stroke-width="0.9" />
<text transform="translate(47.1,276.8) scale(1.15,1)" font-size="5.4" text-anchor="end" fill="#1a1a1a" class="t">40</text>
<line x1="50.7" y1="290.8" x2="53.3" y2="290.8" stroke="#111" stroke-width="0.9" />
<text transform="translate(47.1,292.7) scale(1.15,1)" font-size="5.4" text-anchor="end" fill="#1a1a1a" class="t">20</text>
<line x1="50.7" y1="306.5" x2="53.3" y2="306.5" stroke="#111" stroke-width="0.9" />
<text transform="translate(47.1,308.4) scale(1.15,1)" font-size="5.4" text-anchor="end" fill="#1a1a1a" class="t">0</text>
<text transform="translate(57.7,318.8) rotate(-45)" font-size="5.8" text-anchor="middle" fill="#1a1a1a" letter-spacing="0.45" class="xl">90</text>
<text transform="translate(71.6,318.8) rotate(-45)" font-size="5.8" text-anchor="middle" fill="#1a1a1a" letter-spacing="0.45" class="xl">120</text>
<text transform="translate(85.5,318.8) rotate(-45)" font-size="5.8" text-anchor="middle" fill="#1a1a1a" letter-spacing="0.45" class="xl">150</text>
<text transform="translate(99.4,318.8) rotate(-45)" font-size="5.8" text-anchor="middle" fill="#1a1a1a" letter-spacing="0.45" class="xl">180</text>
<text transform="translate(113.3,318.8) rotate(-45)" font-size="5.8" text-anchor="middle" fill="#1a1a1a" letter-spacing="0.45" class="xl">210</text>
<text transform="translate(127.2,318.8) rotate(-45)" font-size="5.8" text-anchor="middle" fill="#1a1a1a" letter-spacing="0.45" class="xl">240</text>
<text transform="translate(141.1,318.8) rotate(-45)" font-size="5.8" text-anchor="middle" fill="#1a1a1a" letter-spacing="0.45" class="xl">270</text>
<text x="42.4" y="317.9" font-size="5.9" text-anchor="middle" fill="#1a1a1a" font-weight="normal" letter-spacing="0.2" class="t">day</text>
<text x="98.05" y="233.7" font-size="8.5" text-anchor="middle" fill="#2a2a2a"><tspan dy="0">CD159c</tspan><tspan font-size="7.2" dy="-3.3">+</tspan></text>
<circle cx="111.7" cy="238.7" r="1.05" fill="#1a1a1a"/>
<circle cx="115.1" cy="238.7" r="1.05" fill="#1a1a1a"/>
<rect x="162.3" y="243.5" width="8.1" height="63" fill="#f8c689"/>
<line x1="170.4" y1="243.5" x2="170.4" y2="306.5" stroke="#2a1c14" stroke-width="1.25" stroke-dasharray="2.6,2.0" stroke-dashoffset="-0.3"/>
<path d="M165.9 290V301M164.4 290H167.4M164.4 301H167.4" stroke="#c4c4d2" stroke-opacity="0.9" stroke-width="0.8" fill="none"/>
<path d="M179.8 288V303M178.3 288H181.3M178.3 303H181.3" stroke="#c4c4d2" stroke-opacity="0.9" stroke-width="0.8" fill="none"/>
<path d="M193.7 270V284M192.2 270H195.2M192.2 284H195.2" stroke="#c4c4d2" stroke-opacity="0.9" stroke-width="0.8" fill="none"/>
<path d="M207.6 262V295M206.1 262H209.1M206.1 295H209.1" stroke="#c4c4d2" stroke-opacity="0.9" stroke-width="0.8" fill="none"/>
<path d="M221.5 282V300M220 282H223M220 300H223" stroke="#c4c4d2" stroke-opacity="0.9" stroke-width="0.8" fill="none"/>
<path d="M235.4 275V295M233.9 275H236.9M233.9 295H236.9" stroke="#c4c4d2" stroke-opacity="0.9" stroke-width="0.8" fill="none"/>
<path d="M249.3 272V292M247.8 272H250.8M247.8 292H250.8" stroke="#c4c4d2" stroke-opacity="0.9" stroke-width="0.8" fill="none"/>
<polyline points="165.9,295 179.8,296 193.7,276.5 207.6,287 221.5,292.8 235.4,286.4 249.3,282.2" fill="none" stroke="#cfcfda" stroke-width="1.15" stroke-dasharray="3,2"/>
<rect x="164.2" y="293.3" width="3.4" height="3.4" fill="#bdbdc6"/>
<rect x="178.1" y="294.3" width="3.4" height="3.4" fill="#bdbdc6"/>
<rect x="192" y="274.8" width="3.4" height="3.4" fill="#bdbdc6"/>
<rect x="205.9" y="285.3" width="3.4" height="3.4" fill="#bdbdc6"/>
<rect x="219.8" y="291.1" width="3.4" height="3.4" fill="#bdbdc6"/>
<rect x="233.7" y="284.7" width="3.4" height="3.4" fill="#bdbdc6"/>
<rect x="247.6" y="280.5" width="3.4" height="3.4" fill="#bdbdc6"/>
<path d="M165.9 297V303M164.4 297H167.4M164.4 303H167.4" stroke="#e09aab" stroke-opacity="0.85" stroke-width="0.8" fill="none"/>
<path d="M179.8 298V305M178.3 298H181.3M178.3 305H181.3" stroke="#e09aab" stroke-opacity="0.85" stroke-width="0.8" fill="none"/>
<path d="M193.7 293V303M192.2 293H195.2M192.2 303H195.2" stroke="#e09aab" stroke-opacity="0.85" stroke-width="0.8" fill="none"/>
<path d="M207.6 289V300M206.1 289H209.1M206.1 300H209.1" stroke="#e09aab" stroke-opacity="0.85" stroke-width="0.8" fill="none"/>
<path d="M221.5 292V302M220 292H223M220 302H223" stroke="#e09aab" stroke-opacity="0.85" stroke-width="0.8" fill="none"/>
<path d="M235.4 293V303M233.9 293H236.9M233.9 303H236.9" stroke="#e09aab" stroke-opacity="0.85" stroke-width="0.8" fill="none"/>
<path d="M249.3 285V298M247.8 285H250.8M247.8 298H250.8" stroke="#e09aab" stroke-opacity="0.85" stroke-width="0.8" fill="none"/>
<polyline points="165.9,300.2 179.8,302.7 193.7,298.5 207.6,294.9 221.5,297 235.4,298.5 249.3,291.7" fill="none" stroke="#b8173c" stroke-width="1.3"/>
<path d="M165.9 298.3L167.6 301.4H164.2Z" fill="#b8173c"/>
<path d="M179.8 300.8L181.5 303.9H178.1Z" fill="#b8173c"/>
<path d="M193.7 296.6L195.4 299.7H192Z" fill="#b8173c"/>
<path d="M207.6 293L209.3 296.1H205.9Z" fill="#b8173c"/>
<path d="M221.5 295.1L223.2 298.2H219.8Z" fill="#b8173c"/>
<path d="M235.4 296.6L237.1 299.7H233.7Z" fill="#b8173c"/>
<path d="M249.3 289.8L251 292.9H247.6Z" fill="#b8173c"/>
<path d="M165.9 289.6V298M164.4 289.6H167.4M164.4 298H167.4" stroke="#3a3588" stroke-opacity="0.9" stroke-width="0.65" fill="none"/>
<path d="M179.8 286.4V298M178.3 286.4H181.3M178.3 298H181.3" stroke="#3a3588" stroke-opacity="0.9" stroke-width="0.65" fill="none"/>
<path d="M193.7 277V291.3M192.2 277H195.2M192.2 291.3H195.2" stroke="#3a3588" stroke-opacity="0.9" stroke-width="0.65" fill="none"/>
<path d="M207.6 275.9V286M206.1 275.9H209.1M206.1 286H209.1" stroke="#3a3588" stroke-opacity="0.9" stroke-width="0.65" fill="none"/>
<path d="M221.5 262.5V286.4M220 262.5H223M220 286.4H223" stroke="#3a3588" stroke-opacity="0.9" stroke-width="0.65" fill="none"/>
<path d="M235.4 265.3V292.8M233.9 265.3H236.9M233.9 292.8H236.9" stroke="#3a3588" stroke-opacity="0.9" stroke-width="0.65" fill="none"/>
<path d="M249.3 266.3V283.3M247.8 266.3H250.8M247.8 283.3H250.8" stroke="#3a3588" stroke-opacity="0.9" stroke-width="0.65" fill="none"/>
<polyline points="165.9,293.8 179.8,292.2 193.7,283.9 207.6,280.1 221.5,276.5 235.4,280.5 249.3,276.5" fill="none" stroke="#2b2382" stroke-width="1.3"/>
<circle cx="165.9" cy="293.8" r="1.95" fill="#2b2382"/>
<circle cx="179.8" cy="292.2" r="1.95" fill="#2b2382"/>
<circle cx="193.7" cy="283.9" r="1.95" fill="#2b2382"/>
<circle cx="207.6" cy="280.1" r="1.95" fill="#2b2382"/>
<circle cx="221.5" cy="276.5" r="1.95" fill="#2b2382"/>
<circle cx="235.4" cy="280.5" r="1.95" fill="#2b2382"/>
<circle cx="249.3" cy="276.5" r="1.95" fill="#2b2382"/>
<line x1="161.4" y1="240.1" x2="161.4" y2="307" stroke="#111" stroke-width="1.1" />
<line x1="160.9" y1="306.5" x2="249.8" y2="306.5" stroke="#111" stroke-width="1.1" />
<line x1="165.9" y1="306.5" x2="165.9" y2="309.3" stroke="#111" stroke-width="0.9" />
<line x1="179.8" y1="306.5" x2="179.8" y2="309.3" stroke="#111" stroke-width="0.9" />
<line x1="193.7" y1="306.5" x2="193.7" y2="309.3" stroke="#111" stroke-width="0.9" />
<line x1="207.6" y1="306.5" x2="207.6" y2="309.3" stroke="#111" stroke-width="0.9" />
<line x1="221.5" y1="306.5" x2="221.5" y2="309.3" stroke="#111" stroke-width="0.9" />
<line x1="235.4" y1="306.5" x2="235.4" y2="309.3" stroke="#111" stroke-width="0.9" />
<line x1="249.3" y1="306.5" x2="249.3" y2="309.3" stroke="#111" stroke-width="0.9" />
<text transform="translate(165.8,318.8) rotate(-45)" font-size="5.8" text-anchor="middle" fill="#1a1a1a" letter-spacing="0.45" class="xl">90</text>
<text transform="translate(179.7,318.8) rotate(-45)" font-size="5.8" text-anchor="middle" fill="#1a1a1a" letter-spacing="0.45" class="xl">120</text>
<text transform="translate(193.6,318.8) rotate(-45)" font-size="5.8" text-anchor="middle" fill="#1a1a1a" letter-spacing="0.45" class="xl">150</text>
<text transform="translate(207.5,318.8) rotate(-45)" font-size="5.8" text-anchor="middle" fill="#1a1a1a" letter-spacing="0.45" class="xl">180</text>
<text transform="translate(221.4,318.8) rotate(-45)" font-size="5.8" text-anchor="middle" fill="#1a1a1a" letter-spacing="0.45" class="xl">210</text>
<text transform="translate(235.3,318.8) rotate(-45)" font-size="5.8" text-anchor="middle" fill="#1a1a1a" letter-spacing="0.45" class="xl">240</text>
<text transform="translate(249.2,318.8) rotate(-45)" font-size="5.8" text-anchor="middle" fill="#1a1a1a" letter-spacing="0.45" class="xl">270</text>
<text x="206.15" y="233.2" font-size="8.5" text-anchor="middle" fill="#2a2a2a"><tspan dy="0">CD159c</tspan><tspan font-size="7.2" dy="-3.3">+</tspan><tspan dy="3.3">CD57</tspan><tspan font-size="7.2" dy="-3.3">+</tspan></text>
<circle cx="219.8" cy="238.2" r="1.05" fill="#1a1a1a"/>
<circle cx="223.2" cy="238.2" r="1.05" fill="#1a1a1a"/>
<rect x="313.3" y="136" width="8.1" height="63" fill="#f8c689"/>
<line x1="321.4" y1="136" x2="321.4" y2="199" stroke="#2a1c14" stroke-width="1.25" stroke-dasharray="2.6,2.0" stroke-dashoffset="-0.3"/>
<path d="M316.9 188V199M315.4 188H318.4M315.4 199H318.4" stroke="#c4c4d2" stroke-opacity="0.9" stroke-width="0.8" fill="none"/>
<path d="M330.8 185V198M329.3 185H332.3M329.3 198H332.3" stroke="#c4c4d2" stroke-opacity="0.9" stroke-width="0.8" fill="none"/>
<path d="M344.7 175V197M343.2 175H346.2M343.2 197H346.2" stroke="#c4c4d2" stroke-opacity="0.9" stroke-width="0.8" fill="none"/>
<path d="M358.6 170V193M357.1 170H360.1M357.1 193H360.1" stroke="#c4c4d2" stroke-opacity="0.9" stroke-width="0.8" fill="none"/>
<path d="M372.5 172V192M371 172H374M371 192H374" stroke="#c4c4d2" stroke-opacity="0.9" stroke-width="0.8" fill="none"/>
<path d="M386.4 170V192M384.9 170H387.9M384.9 192H387.9" stroke="#c4c4d2" stroke-opacity="0.9" stroke-width="0.8" fill="none"/>
<path d="M400.3 143V190M398.8 143H401.8M398.8 190H401.8" stroke="#c4c4d2" stroke-opacity="0.9" stroke-width="0.8" fill="none"/>
<polyline points="316.9,195 330.8,193 344.7,192 358.6,184.1 372.5,182.9 386.4,181.7 400.3,179.7" fill="none" stroke="#cfcfda" stroke-width="1.15" stroke-dasharray="3,2"/>
<rect x="315.2" y="193.3" width="3.4" height="3.4" fill="#bdbdc6"/>
<rect x="329.1" y="191.3" width="3.4" height="3.4" fill="#bdbdc6"/>
<rect x="343" y="190.3" width="3.4" height="3.4" fill="#bdbdc6"/>
<rect x="356.9" y="182.4" width="3.4" height="3.4" fill="#bdbdc6"/>
<rect x="370.8" y="181.2" width="3.4" height="3.4" fill="#bdbdc6"/>
<rect x="384.7" y="180" width="3.4" height="3.4" fill="#bdbdc6"/>
<rect x="398.6" y="178" width="3.4" height="3.4" fill="#bdbdc6"/>
<path d="M316.9 193V199M315.4 193H318.4M315.4 199H318.4" stroke="#e09aab" stroke-opacity="0.85" stroke-width="0.8" fill="none"/>
<path d="M330.8 194V199M329.3 194H332.3M329.3 199H332.3" stroke="#e09aab" stroke-opacity="0.85" stroke-width="0.8" fill="none"/>
<path d="M344.7 192V198M343.2 192H346.2M343.2 198H346.2" stroke="#e09aab" stroke-opacity="0.85" stroke-width="0.8" fill="none"/>
<path d="M358.6 186V195M357.1 186H360.1M357.1 195H360.1" stroke="#e09aab" stroke-opacity="0.85" stroke-width="0.8" fill="none"/>
<path d="M372.5 190V197M371 190H374M371 197H374" stroke="#e09aab" stroke-opacity="0.85" stroke-width="0.8" fill="none"/>
<path d="M386.4 185V194M384.9 185H387.9M384.9 194H387.9" stroke="#e09aab" stroke-opacity="0.85" stroke-width="0.8" fill="none"/>
<path d="M400.3 190V197M398.8 190H401.8M398.8 197H401.8" stroke="#e09aab" stroke-opacity="0.85" stroke-width="0.8" fill="none"/>
<polyline points="316.9,196.4 330.8,197.2 344.7,195.2 358.6,191.5 372.5,194 386.4,190.3 400.3,194" fill="none" stroke="#b8173c" stroke-width="1.3"/>
<path d="M316.9 194.5L318.6 197.6H315.2Z" fill="#b8173c"/>
<path d="M330.8 195.3L332.5 198.4H329.1Z" fill="#b8173c"/>
<path d="M344.7 193.3L346.4 196.4H343Z" fill="#b8173c"/>
<path d="M358.6 189.6L360.3 192.7H356.9Z" fill="#b8173c"/>
<path d="M372.5 192.1L374.2 195.2H370.8Z" fill="#b8173c"/>
<path d="M386.4 188.4L388.1 191.5H384.7Z" fill="#b8173c"/>
<path d="M400.3 192.1L402 195.2H398.6Z" fill="#b8173c"/>
<path d="M316.9 184.6V198M315.4 184.6H318.4M315.4 198H318.4" stroke="#3a3588" stroke-opacity="0.9" stroke-width="0.65" fill="none"/>
<path d="M330.8 179.2V197M329.3 179.2H332.3M329.3 197H332.3" stroke="#3a3588" stroke-opacity="0.9" stroke-width="0.65" fill="none"/>
<path d="M344.7 162.4V196M343.2 162.4H346.2M343.2 196H346.2" stroke="#3a3588" stroke-opacity="0.9" stroke-width="0.65" fill="none"/>
<path d="M358.6 161.5V188M357.1 161.5H360.1M357.1 188H360.1" stroke="#3a3588" stroke-opacity="0.9" stroke-width="0.65" fill="none"/>
<path d="M372.5 139.4V185M371 139.4H374M371 185H374" stroke="#3a3588" stroke-opacity="0.9" stroke-width="0.65" fill="none"/>
<path d="M386.4 160.6V180M384.9 160.6H387.9M384.9 180H387.9" stroke="#3a3588" stroke-opacity="0.9" stroke-width="0.65" fill="none"/>
<path d="M400.3 153V173M398.8 153H401.8M398.8 173H401.8" stroke="#3a3588" stroke-opacity="0.9" stroke-width="0.65" fill="none"/>
<polyline points="316.9,192.7 330.8,191.5 344.7,188.5 358.6,174.3 372.5,171.3 386.4,166.4 400.3,157" fill="none" stroke="#2b2382" stroke-width="1.3"/>
<circle cx="316.9" cy="192.7" r="1.95" fill="#2b2382"/>
<circle cx="330.8" cy="191.5" r="1.95" fill="#2b2382"/>
<circle cx="344.7" cy="188.5" r="1.95" fill="#2b2382"/>
<circle cx="358.6" cy="174.3" r="1.95" fill="#2b2382"/>
<circle cx="372.5" cy="171.3" r="1.95" fill="#2b2382"/>
<circle cx="386.4" cy="166.4" r="1.95" fill="#2b2382"/>
<circle cx="400.3" cy="157" r="1.95" fill="#2b2382"/>
<line x1="312.4" y1="131.4" x2="312.4" y2="146.2" stroke="#111" stroke-width="1.1" />
<line x1="312.4" y1="150.6" x2="312.4" y2="199.5" stroke="#111" stroke-width="1.1" />
<line x1="311.9" y1="199" x2="400.8" y2="199" stroke="#111" stroke-width="1.1" />
<line x1="316.9" y1="199" x2="316.9" y2="201.8" stroke="#111" stroke-width="0.9" />
<line x1="330.8" y1="199" x2="330.8" y2="201.8" stroke="#111" stroke-width="0.9" />
<line x1="344.7" y1="199" x2="344.7" y2="201.8" stroke="#111" stroke-width="0.9" />
<line x1="358.6" y1="199" x2="358.6" y2="201.8" stroke="#111" stroke-width="0.9" />
<line x1="372.5" y1="199" x2="372.5" y2="201.8" stroke="#111" stroke-width="0.9" />
<line x1="386.4" y1="199" x2="386.4" y2="201.8" stroke="#111" stroke-width="0.9" />
<line x1="400.3" y1="199" x2="400.3" y2="201.8" stroke="#111" stroke-width="0.9" />
<line x1="309.8" y1="135.5" x2="312.4" y2="135.5" stroke="#111" stroke-width="0.9" />
<text transform="translate(306.2,137.4) scale(1.15,1)" font-size="5.4" text-anchor="end" fill="#1a1a1a" class="t">200</text>
<line x1="309.8" y1="141.9" x2="312.4" y2="141.9" stroke="#111" stroke-width="0.9" />
<text transform="translate(306.2,143.8) scale(1.15,1)" font-size="5.4" text-anchor="end" fill="#1a1a1a" class="t">150</text>
<line x1="309.8" y1="152.4" x2="312.4" y2="152.4" stroke="#111" stroke-width="0.9" />
<text transform="translate(306.2,154.3) scale(1.15,1)" font-size="5.4" text-anchor="end" fill="#1a1a1a" class="t">120</text>
<line x1="309.8" y1="163.9" x2="312.4" y2="163.9" stroke="#111" stroke-width="0.9" />
<text transform="translate(306.2,165.8) scale(1.15,1)" font-size="5.4" text-anchor="end" fill="#1a1a1a" class="t">90</text>
<line x1="309.8" y1="175.4" x2="312.4" y2="175.4" stroke="#111" stroke-width="0.9" />
<text transform="translate(306.2,177.3) scale(1.15,1)" font-size="5.4" text-anchor="end" fill="#1a1a1a" class="t">60</text>
<line x1="309.8" y1="187.2" x2="312.4" y2="187.2" stroke="#111" stroke-width="0.9" />
<text transform="translate(306.2,189.1) scale(1.15,1)" font-size="5.4" text-anchor="end" fill="#1a1a1a" class="t">30</text>
<line x1="309.8" y1="199" x2="312.4" y2="199" stroke="#111" stroke-width="0.9" />
<text transform="translate(306.2,200.9) scale(1.15,1)" font-size="5.4" text-anchor="end" fill="#1a1a1a" class="t">0</text>
<text transform="translate(316.8,211.3) rotate(-45)" font-size="5.8" text-anchor="middle" fill="#1a1a1a" letter-spacing="0.45" class="xl">90</text>
<text transform="translate(330.7,211.3) rotate(-45)" font-size="5.8" text-anchor="middle" fill="#1a1a1a" letter-spacing="0.45" class="xl">120</text>
<text transform="translate(344.6,211.3) rotate(-45)" font-size="5.8" text-anchor="middle" fill="#1a1a1a" letter-spacing="0.45" class="xl">150</text>
<text transform="translate(358.5,211.3) rotate(-45)" font-size="5.8" text-anchor="middle" fill="#1a1a1a" letter-spacing="0.45" class="xl">180</text>
<text transform="translate(372.4,211.3) rotate(-45)" font-size="5.8" text-anchor="middle" fill="#1a1a1a" letter-spacing="0.45" class="xl">210</text>
<text transform="translate(386.3,211.3) rotate(-45)" font-size="5.8" text-anchor="middle" fill="#1a1a1a" letter-spacing="0.45" class="xl">240</text>
<text transform="translate(400.2,211.3) rotate(-45)" font-size="5.8" text-anchor="middle" fill="#1a1a1a" letter-spacing="0.45" class="xl">270</text>
<text transform="translate(305.2,208.2) rotate(-45)" font-size="5.9" text-anchor="end" fill="#1a1a1a" letter-spacing="0.2" class="xl">day</text>
<text x="357.15" y="125.9" font-size="8.5" text-anchor="middle" fill="#2a2a2a"><tspan dy="0">CD159c</tspan><tspan font-size="7.2" dy="-3.3">++</tspan></text>
<circle cx="372.5" cy="130.9" r="1.05" fill="#1a1a1a"/>
<circle cx="400.3" cy="130.9" r="1.05" fill="#aaa"/>
<rect x="421.4" y="135.8" width="8.1" height="63.2" fill="#f8c689"/>
<line x1="429.5" y1="135.8" x2="429.5" y2="199" stroke="#2a1c14" stroke-width="1.25" stroke-dasharray="2.6,2.0" stroke-dashoffset="-0.3"/>
<path d="M425 193V199M423.5 193H426.5M423.5 199H426.5" stroke="#c4c4d2" stroke-opacity="0.9" stroke-width="0.8" fill="none"/>
<path d="M438.9 190V199M437.4 190H440.4M437.4 199H440.4" stroke="#c4c4d2" stroke-opacity="0.9" stroke-width="0.8" fill="none"/>
<path d="M452.8 188V198M451.3 188H454.3M451.3 198H454.3" stroke="#c4c4d2" stroke-opacity="0.9" stroke-width="0.8" fill="none"/>
<path d="M466.7 178V193M465.2 178H468.2M465.2 193H468.2" stroke="#c4c4d2" stroke-opacity="0.9" stroke-width="0.8" fill="none"/>
<path d="M480.6 182V195M479.1 182H482.1M479.1 195H482.1" stroke="#c4c4d2" stroke-opacity="0.9" stroke-width="0.8" fill="none"/>
<path d="M494.5 176V192M493 176H496M493 192H496" stroke="#c4c4d2" stroke-opacity="0.9" stroke-width="0.8" fill="none"/>
<path d="M508.4 170V192M506.9 170H509.9M506.9 192H509.9" stroke="#c4c4d2" stroke-opacity="0.9" stroke-width="0.8" fill="none"/>
<polyline points="425,197 438.9,196 452.8,195 466.7,186.3 480.6,189.3 494.5,184.8 508.4,183.1" fill="none" stroke="#cfcfda" stroke-width="1.15" stroke-dasharray="3,2"/>
<rect x="423.3" y="195.3" width="3.4" height="3.4" fill="#bdbdc6"/>
<rect x="437.2" y="194.3" width="3.4" height="3.4" fill="#bdbdc6"/>
<rect x="451.1" y="193.3" width="3.4" height="3.4" fill="#bdbdc6"/>
<rect x="465" y="184.6" width="3.4" height="3.4" fill="#bdbdc6"/>
<rect x="478.9" y="187.6" width="3.4" height="3.4" fill="#bdbdc6"/>
<rect x="492.8" y="183.1" width="3.4" height="3.4" fill="#bdbdc6"/>
<rect x="506.7" y="181.4" width="3.4" height="3.4" fill="#bdbdc6"/>
<path d="M425 195V199M423.5 195H426.5M423.5 199H426.5" stroke="#e09aab" stroke-opacity="0.85" stroke-width="0.8" fill="none"/>
<path d="M438.9 194V199M437.4 194H440.4M437.4 199H440.4" stroke="#e09aab" stroke-opacity="0.85" stroke-width="0.8" fill="none"/>
<path d="M452.8 193V199M451.3 193H454.3M451.3 199H454.3" stroke="#e09aab" stroke-opacity="0.85" stroke-width="0.8" fill="none"/>
<path d="M466.7 191V197M465.2 191H468.2M465.2 197H468.2" stroke="#e09aab" stroke-opacity="0.85" stroke-width="0.8" fill="none"/>
<path d="M480.6 195V199M479.1 195H482.1M479.1 199H482.1" stroke="#e09aab" stroke-opacity="0.85" stroke-width="0.8" fill="none"/>
<path d="M494.5 191V197M493 191H496M493 197H496" stroke="#e09aab" stroke-opacity="0.85" stroke-width="0.8" fill="none"/>
<path d="M508.4 193V198M506.9 193H509.9M506.9 198H509.9" stroke="#e09aab" stroke-opacity="0.85" stroke-width="0.8" fill="none"/>
<polyline points="425,197.1 438.9,197 452.8,196.5 466.7,194.7 480.6,197.9 494.5,194.7 508.4,196.2" fill="none" stroke="#b8173c" stroke-width="1.3"/>
<path d="M425 195.2L426.7 198.3H423.3Z" fill="#b8173c"/>
<path d="M438.9 195.1L440.6 198.2H437.2Z" fill="#b8173c"/>
<path d="M452.8 194.6L454.5 197.7H451.1Z" fill="#b8173c"/>
<path d="M466.7 192.8L468.4 195.9H465Z" fill="#b8173c"/>
<path d="M480.6 196L482.3 199.1H478.9Z" fill="#b8173c"/>
<path d="M494.5 192.8L496.2 195.9H492.8Z" fill="#b8173c"/>
<path d="M508.4 194.3L510.1 197.4H506.7Z" fill="#b8173c"/>
<path d="M425 188.8V199M423.5 188.8H426.5M423.5 199H426.5" stroke="#3a3588" stroke-opacity="0.9" stroke-width="0.65" fill="none"/>
<path d="M438.9 184.8V199M437.4 184.8H440.4M437.4 199H440.4" stroke="#3a3588" stroke-opacity="0.9" stroke-width="0.65" fill="none"/>
<path d="M452.8 172V198M451.3 172H454.3M451.3 198H454.3" stroke="#3a3588" stroke-opacity="0.9" stroke-width="0.65" fill="none"/>
<path d="M466.7 175.2V192M465.2 175.2H468.2M465.2 192H468.2" stroke="#3a3588" stroke-opacity="0.9" stroke-width="0.65" fill="none"/>
<path d="M480.6 156V190M479.1 156H482.1M479.1 190H482.1" stroke="#3a3588" stroke-opacity="0.9" stroke-width="0.65" fill="none"/>
<path d="M494.5 167.1V190M493 167.1H496M493 190H496" stroke="#3a3588" stroke-opacity="0.9" stroke-width="0.65" fill="none"/>
<path d="M508.4 152V186M506.9 152H509.9M506.9 186H509.9" stroke="#3a3588" stroke-opacity="0.9" stroke-width="0.65" fill="none"/>
<polyline points="425,196.2 438.9,194.7 452.8,192.2 466.7,183.8 480.6,179.4 494.5,180.1 508.4,171.5" fill="none" stroke="#2b2382" stroke-width="1.3"/>
<circle cx="425" cy="196.2" r="1.95" fill="#2b2382"/>
<circle cx="438.9" cy="194.7" r="1.95" fill="#2b2382"/>
<circle cx="452.8" cy="192.2" r="1.95" fill="#2b2382"/>
<circle cx="466.7" cy="183.8" r="1.95" fill="#2b2382"/>
<circle cx="480.6" cy="179.4" r="1.95" fill="#2b2382"/>
<circle cx="494.5" cy="180.1" r="1.95" fill="#2b2382"/>
<circle cx="508.4" cy="171.5" r="1.95" fill="#2b2382"/>
<line x1="506.7" y1="145.2" x2="510.1" y2="145.2" stroke="#555" stroke-width="1.0" />
<line x1="420.5" y1="131.2" x2="420.5" y2="199.5" stroke="#111" stroke-width="1.1" />
<line x1="420" y1="199" x2="508.9" y2="199" stroke="#111" stroke-width="1.1" />
<line x1="425" y1="199" x2="425" y2="201.8" stroke="#111" stroke-width="0.9" />
<line x1="438.9" y1="199" x2="438.9" y2="201.8" stroke="#111" stroke-width="0.9" />
<line x1="452.8" y1="199" x2="452.8" y2="201.8" stroke="#111" stroke-width="0.9" />
<line x1="466.7" y1="199" x2="466.7" y2="201.8" stroke="#111" stroke-width="0.9" />
<line x1="480.6" y1="199" x2="480.6" y2="201.8" stroke="#111" stroke-width="0.9" />
<line x1="494.5" y1="199" x2="494.5" y2="201.8" stroke="#111" stroke-width="0.9" />
<line x1="508.4" y1="199" x2="508.4" y2="201.8" stroke="#111" stroke-width="0.9" />
<text transform="translate(424.9,211.3) rotate(-45)" font-size="5.8" text-anchor="middle" fill="#1a1a1a" letter-spacing="0.45" class="xl">90</text>
<text transform="translate(438.8,211.3) rotate(-45)" font-size="5.8" text-anchor="middle" fill="#1a1a1a" letter-spacing="0.45" class="xl">120</text>
<text transform="translate(452.7,211.3) rotate(-45)" font-size="5.8" text-anchor="middle" fill="#1a1a1a" letter-spacing="0.45" class="xl">150</text>
<text transform="translate(466.6,211.3) rotate(-45)" font-size="5.8" text-anchor="middle" fill="#1a1a1a" letter-spacing="0.45" class="xl">180</text>
<text transform="translate(480.5,211.3) rotate(-45)" font-size="5.8" text-anchor="middle" fill="#1a1a1a" letter-spacing="0.45" class="xl">210</text>
<text transform="translate(494.4,211.3) rotate(-45)" font-size="5.8" text-anchor="middle" fill="#1a1a1a" letter-spacing="0.45" class="xl">240</text>
<text transform="translate(508.3,211.3) rotate(-45)" font-size="5.8" text-anchor="middle" fill="#1a1a1a" letter-spacing="0.45" class="xl">270</text>
<text x="465.25" y="125.9" font-size="8.5" text-anchor="middle" fill="#2a2a2a"><tspan dy="0">CD159c</tspan><tspan font-size="7.2" dy="-3.3">++</tspan><tspan dy="3.3">CD57</tspan><tspan font-size="7.2" dy="-3.3">+</tspan></text>
<circle cx="478.9" cy="130.9" r="1.05" fill="#1a1a1a"/>
<circle cx="482.3" cy="130.9" r="1.05" fill="#1a1a1a"/>
<circle cx="508.4" cy="130.9" r="1.05" fill="#1a1a1a"/>
<rect x="313.1" y="243" width="8.1" height="63.5" fill="#f8c689"/>
<line x1="321.2" y1="243" x2="321.2" y2="306.5" stroke="#2a1c14" stroke-width="1.25" stroke-dasharray="2.6,2.0" stroke-dashoffset="-0.3"/>
<path d="M316.7 292V305M315.2 292H318.2M315.2 305H318.2" stroke="#c4c4d2" stroke-opacity="0.9" stroke-width="0.8" fill="none"/>
<path d="M330.6 284V305M329.1 284H332.1M329.1 305H332.1" stroke="#c4c4d2" stroke-opacity="0.9" stroke-width="0.8" fill="none"/>
<path d="M344.5 276V298M343 276H346M343 298H346" stroke="#c4c4d2" stroke-opacity="0.9" stroke-width="0.8" fill="none"/>
<path d="M358.4 278V302M356.9 278H359.9M356.9 302H359.9" stroke="#c4c4d2" stroke-opacity="0.9" stroke-width="0.8" fill="none"/>
<path d="M372.3 286V304M370.8 286H373.8M370.8 304H373.8" stroke="#c4c4d2" stroke-opacity="0.9" stroke-width="0.8" fill="none"/>
<path d="M386.2 280V302M384.7 280H387.7M384.7 302H387.7" stroke="#c4c4d2" stroke-opacity="0.9" stroke-width="0.8" fill="none"/>
<path d="M400.1 282V302M398.6 282H401.6M398.6 302H401.6" stroke="#c4c4d2" stroke-opacity="0.9" stroke-width="0.8" fill="none"/>
<polyline points="316.7,301 330.6,297 344.5,287 358.4,292 372.3,296 386.2,293 400.1,293" fill="none" stroke="#cfcfda" stroke-width="1.15" stroke-dasharray="3,2"/>
<rect x="315" y="299.3" width="3.4" height="3.4" fill="#bdbdc6"/>
<rect x="328.9" y="295.3" width="3.4" height="3.4" fill="#bdbdc6"/>
<rect x="342.8" y="285.3" width="3.4" height="3.4" fill="#bdbdc6"/>
<rect x="356.7" y="290.3" width="3.4" height="3.4" fill="#bdbdc6"/>
<rect x="370.6" y="294.3" width="3.4" height="3.4" fill="#bdbdc6"/>
<rect x="384.5" y="291.3" width="3.4" height="3.4" fill="#bdbdc6"/>
<rect x="398.4" y="291.3" width="3.4" height="3.4" fill="#bdbdc6"/>
<path d="M316.7 300V305M315.2 300H318.2M315.2 305H318.2" stroke="#e09aab" stroke-opacity="0.85" stroke-width="0.8" fill="none"/>
<path d="M330.6 300V305M329.1 300H332.1M329.1 305H332.1" stroke="#e09aab" stroke-opacity="0.85" stroke-width="0.8" fill="none"/>
<path d="M344.5 299V305M343 299H346M343 305H346" stroke="#e09aab" stroke-opacity="0.85" stroke-width="0.8" fill="none"/>
<path d="M358.4 300V305M356.9 300H359.9M356.9 305H359.9" stroke="#e09aab" stroke-opacity="0.85" stroke-width="0.8" fill="none"/>
<path d="M372.3 296V304M370.8 296H373.8M370.8 304H373.8" stroke="#e09aab" stroke-opacity="0.85" stroke-width="0.8" fill="none"/>
<path d="M386.2 291V300M384.7 291H387.7M384.7 300H387.7" stroke="#e09aab" stroke-opacity="0.85" stroke-width="0.8" fill="none"/>
<path d="M400.1 294V302M398.6 294H401.6M398.6 302H401.6" stroke="#e09aab" stroke-opacity="0.85" stroke-width="0.8" fill="none"/>
<polyline points="316.7,302.6 330.6,302.6 344.5,302.1 358.4,302.9 372.3,300.3 386.2,296.1 400.1,298.7" fill="none" stroke="#b8173c" stroke-width="1.3"/>
<path d="M316.7 300.7L318.4 303.8H315Z" fill="#b8173c"/>
<path d="M330.6 300.7L332.3 303.8H328.9Z" fill="#b8173c"/>
<path d="M344.5 300.2L346.2 303.3H342.8Z" fill="#b8173c"/>
<path d="M358.4 301L360.1 304.1H356.7Z" fill="#b8173c"/>
<path d="M372.3 298.4L374 301.5H370.6Z" fill="#b8173c"/>
<path d="M386.2 294.2L387.9 297.3H384.5Z" fill="#b8173c"/>
<path d="M400.1 296.8L401.8 299.9H398.4Z" fill="#b8173c"/>
<path d="M316.7 291.6V305M315.2 291.6H318.2M315.2 305H318.2" stroke="#3a3588" stroke-opacity="0.9" stroke-width="0.65" fill="none"/>
<path d="M330.6 288.2V304M329.1 288.2H332.1M329.1 304H332.1" stroke="#3a3588" stroke-opacity="0.9" stroke-width="0.65" fill="none"/>
<path d="M344.5 284.6V300M343 284.6H346M343 300H346" stroke="#3a3588" stroke-opacity="0.9" stroke-width="0.65" fill="none"/>
<path d="M358.4 275.2V298M356.9 275.2H359.9M356.9 298H359.9" stroke="#3a3588" stroke-opacity="0.9" stroke-width="0.65" fill="none"/>
<path d="M372.3 266.3V296M370.8 266.3H373.8M370.8 296H373.8" stroke="#3a3588" stroke-opacity="0.9" stroke-width="0.65" fill="none"/>
<path d="M386.2 268.9V300M384.7 268.9H387.7M384.7 300H387.7" stroke="#3a3588" stroke-opacity="0.9" stroke-width="0.65" fill="none"/>
<path d="M400.1 270.2V298M398.6 270.2H401.6M398.6 298H401.6" stroke="#3a3588" stroke-opacity="0.9" stroke-width="0.65" fill="none"/>
<polyline points="316.7,301.3 330.6,298.2 344.5,292.4 358.4,287.7 372.3,282 386.2,285.9 400.1,285.1" fill="none" stroke="#2b2382" stroke-width="1.3"/>
<circle cx="316.7" cy="301.3" r="1.95" fill="#2b2382"/>
<circle cx="330.6" cy="298.2" r="1.95" fill="#2b2382"/>
<circle cx="344.5" cy="292.4" r="1.95" fill="#2b2382"/>
<circle cx="358.4" cy="287.7" r="1.95" fill="#2b2382"/>
<circle cx="372.3" cy="282" r="1.95" fill="#2b2382"/>
<circle cx="386.2" cy="285.9" r="1.95" fill="#2b2382"/>
<circle cx="400.1" cy="285.1" r="1.95" fill="#2b2382"/>
<line x1="312.2" y1="241" x2="312.2" y2="307" stroke="#111" stroke-width="1.1" />
<line x1="311.7" y1="306.5" x2="400.6" y2="306.5" stroke="#111" stroke-width="1.1" />
<line x1="316.7" y1="306.5" x2="316.7" y2="309.3" stroke="#111" stroke-width="0.9" />
<line x1="330.6" y1="306.5" x2="330.6" y2="309.3" stroke="#111" stroke-width="0.9" />
<line x1="344.5" y1="306.5" x2="344.5" y2="309.3" stroke="#111" stroke-width="0.9" />
<line x1="358.4" y1="306.5" x2="358.4" y2="309.3" stroke="#111" stroke-width="0.9" />
<line x1="372.3" y1="306.5" x2="372.3" y2="309.3" stroke="#111" stroke-width="0.9" />
<line x1="386.2" y1="306.5" x2="386.2" y2="309.3" stroke="#111" stroke-width="0.9" />
<line x1="400.1" y1="306.5" x2="400.1" y2="309.3" stroke="#111" stroke-width="0.9" />
<line x1="309.6" y1="243.1" x2="312.2" y2="243.1" stroke="#111" stroke-width="0.9" />
<text transform="translate(306,245) scale(1.15,1)" font-size="5.4" text-anchor="end" fill="#1a1a1a" class="t">60</text>
<line x1="309.6" y1="258.7" x2="312.2" y2="258.7" stroke="#111" stroke-width="0.9" />
<text transform="translate(306,260.6) scale(1.15,1)" font-size="5.4" text-anchor="end" fill="#1a1a1a" class="t">45</text>
<line x1="309.6" y1="274.4" x2="312.2" y2="274.4" stroke="#111" stroke-width="0.9" />
<text transform="translate(306,276.3) scale(1.15,1)" font-size="5.4" text-anchor="end" fill="#1a1a1a" class="t">30</text>
<line x1="309.6" y1="290.5" x2="312.2" y2="290.5" stroke="#111" stroke-width="0.9" />
<text transform="translate(306,292.4) scale(1.15,1)" font-size="5.4" text-anchor="end" fill="#1a1a1a" class="t">15</text>
<line x1="309.6" y1="306.5" x2="312.2" y2="306.5" stroke="#111" stroke-width="0.9" />
<text transform="translate(306,308.4) scale(1.15,1)" font-size="5.4" text-anchor="end" fill="#1a1a1a" class="t">0</text>
<text transform="translate(316.6,318.8) rotate(-45)" font-size="5.8" text-anchor="middle" fill="#1a1a1a" letter-spacing="0.45" class="xl">90</text>
<text transform="translate(330.5,318.8) rotate(-45)" font-size="5.8" text-anchor="middle" fill="#1a1a1a" letter-spacing="0.45" class="xl">120</text>
<text transform="translate(344.4,318.8) rotate(-45)" font-size="5.8" text-anchor="middle" fill="#1a1a1a" letter-spacing="0.45" class="xl">150</text>
<text transform="translate(358.3,318.8) rotate(-45)" font-size="5.8" text-anchor="middle" fill="#1a1a1a" letter-spacing="0.45" class="xl">180</text>
<text transform="translate(372.2,318.8) rotate(-45)" font-size="5.8" text-anchor="middle" fill="#1a1a1a" letter-spacing="0.45" class="xl">210</text>
<text transform="translate(386.1,318.8) rotate(-45)" font-size="5.8" text-anchor="middle" fill="#1a1a1a" letter-spacing="0.45" class="xl">240</text>
<text transform="translate(400,318.8) rotate(-45)" font-size="5.8" text-anchor="middle" fill="#1a1a1a" letter-spacing="0.45" class="xl">270</text>
<text x="301.3" y="317.9" font-size="5.9" text-anchor="middle" fill="#1a1a1a" font-weight="normal" letter-spacing="0.2" class="t">day</text>
<text x="356.95" y="233.4" font-size="8.5" text-anchor="middle" fill="#2a2a2a"><tspan dy="0">CD159c</tspan><tspan font-size="7.2" dy="-3.3">++</tspan></text>
<circle cx="358.4" cy="238.4" r="1.05" fill="#1a1a1a"/>
<circle cx="372.3" cy="238.4" r="1.05" fill="#1a1a1a"/>
<rect x="421.5" y="243.2" width="8.1" height="63.3" fill="#f8c689"/>
<line x1="429.6" y1="243.2" x2="429.6" y2="306.5" stroke="#2a1c14" stroke-width="1.25" stroke-dasharray="2.6,2.0" stroke-dashoffset="-0.3"/>
<path d="M425.1 298V305M423.6 298H426.6M423.6 305H426.6" stroke="#c4c4d2" stroke-opacity="0.9" stroke-width="0.8" fill="none"/>
<path d="M439 295V305M437.5 295H440.5M437.5 305H440.5" stroke="#c4c4d2" stroke-opacity="0.9" stroke-width="0.8" fill="none"/>
<path d="M452.9 290V304M451.4 290H454.4M451.4 304H454.4" stroke="#c4c4d2" stroke-opacity="0.9" stroke-width="0.8" fill="none"/>
<path d="M466.8 279.7V302M465.3 279.7H468.3M465.3 302H468.3" stroke="#c4c4d2" stroke-opacity="0.9" stroke-width="0.8" fill="none"/>
<path d="M480.7 290V304M479.2 290H482.2M479.2 304H482.2" stroke="#c4c4d2" stroke-opacity="0.9" stroke-width="0.8" fill="none"/>
<path d="M494.6 285V302M493.1 285H496.1M493.1 302H496.1" stroke="#c4c4d2" stroke-opacity="0.9" stroke-width="0.8" fill="none"/>
<path d="M508.5 285V302M507 285H510M507 302H510" stroke="#c4c4d2" stroke-opacity="0.9" stroke-width="0.8" fill="none"/>
<polyline points="425.1,303 439,302 452.9,300 466.8,296 480.7,299 494.6,296 508.5,297" fill="none" stroke="#cfcfda" stroke-width="1.15" stroke-dasharray="3,2"/>
<rect x="423.4" y="301.3" width="3.4" height="3.4" fill="#bdbdc6"/>
<rect x="437.3" y="300.3" width="3.4" height="3.4" fill="#bdbdc6"/>
<rect x="451.2" y="298.3" width="3.4" height="3.4" fill="#bdbdc6"/>
<rect x="465.1" y="294.3" width="3.4" height="3.4" fill="#bdbdc6"/>
<rect x="479" y="297.3" width="3.4" height="3.4" fill="#bdbdc6"/>
<rect x="492.9" y="294.3" width="3.4" height="3.4" fill="#bdbdc6"/>
<rect x="506.8" y="295.3" width="3.4" height="3.4" fill="#bdbdc6"/>
<path d="M425.1 302V305.5M423.6 302H426.6M423.6 305.5H426.6" stroke="#e09aab" stroke-opacity="0.85" stroke-width="0.8" fill="none"/>
<path d="M439 302V305.5M437.5 302H440.5M437.5 305.5H440.5" stroke="#e09aab" stroke-opacity="0.85" stroke-width="0.8" fill="none"/>
<path d="M452.9 302V305.5M451.4 302H454.4M451.4 305.5H454.4" stroke="#e09aab" stroke-opacity="0.85" stroke-width="0.8" fill="none"/>
<path d="M466.8 302V305.5M465.3 302H468.3M465.3 305.5H468.3" stroke="#e09aab" stroke-opacity="0.85" stroke-width="0.8" fill="none"/>
<path d="M480.7 302V305.5M479.2 302H482.2M479.2 305.5H482.2" stroke="#e09aab" stroke-opacity="0.85" stroke-width="0.8" fill="none"/>
<path d="M494.6 298V304M493.1 298H496.1M493.1 304H496.1" stroke="#e09aab" stroke-opacity="0.85" stroke-width="0.8" fill="none"/>
<path d="M508.5 300V305M507 300H510M507 305H510" stroke="#e09aab" stroke-opacity="0.85" stroke-width="0.8" fill="none"/>
<polyline points="425.1,303.5 439,304.8 452.9,304.5 466.8,304.5 480.7,304.5 494.6,301.3 508.5,303.2" fill="none" stroke="#b8173c" stroke-width="1.3"/>
<path d="M425.1 301.6L426.8 304.7H423.4Z" fill="#b8173c"/>
<path d="M439 302.9L440.7 306H437.3Z" fill="#b8173c"/>
<path d="M452.9 302.6L454.6 305.7H451.2Z" fill="#b8173c"/>
<path d="M466.8 302.6L468.5 305.7H465.1Z" fill="#b8173c"/>
<path d="M480.7 302.6L482.4 305.7H479Z" fill="#b8173c"/>
<path d="M494.6 299.4L496.3 302.5H492.9Z" fill="#b8173c"/>
<path d="M508.5 301.3L510.2 304.4H506.8Z" fill="#b8173c"/>
<path d="M425.1 295.8V305M423.6 295.8H426.6M423.6 305H426.6" stroke="#3a3588" stroke-opacity="0.9" stroke-width="0.65" fill="none"/>
<path d="M439 291.6V305M437.5 291.6H440.5M437.5 305H440.5" stroke="#3a3588" stroke-opacity="0.9" stroke-width="0.65" fill="none"/>
<path d="M452.9 287.7V303M451.4 287.7H454.4M451.4 303H454.4" stroke="#3a3588" stroke-opacity="0.9" stroke-width="0.65" fill="none"/>
<path d="M466.8 283.9V302M465.3 283.9H468.3M465.3 302H468.3" stroke="#3a3588" stroke-opacity="0.9" stroke-width="0.65" fill="none"/>
<path d="M480.7 273.2V298M479.2 273.2H482.2M479.2 298H482.2" stroke="#3a3588" stroke-opacity="0.9" stroke-width="0.65" fill="none"/>
<path d="M494.6 277.4V302M493.1 277.4H496.1M493.1 302H496.1" stroke="#3a3588" stroke-opacity="0.9" stroke-width="0.65" fill="none"/>
<path d="M508.5 276.5V302M507 276.5H510M507 302H510" stroke="#3a3588" stroke-opacity="0.9" stroke-width="0.65" fill="none"/>
<polyline points="425.1,302.3 439,300 452.9,297.4 466.8,294.8 480.7,287.7 494.6,291.6 508.5,292.6" fill="none" stroke="#2b2382" stroke-width="1.3"/>
<circle cx="425.1" cy="302.3" r="1.95" fill="#2b2382"/>
<circle cx="439" cy="300" r="1.95" fill="#2b2382"/>
<circle cx="452.9" cy="297.4" r="1.95" fill="#2b2382"/>
<circle cx="466.8" cy="294.8" r="1.95" fill="#2b2382"/>
<circle cx="480.7" cy="287.7" r="1.95" fill="#2b2382"/>
<circle cx="494.6" cy="291.6" r="1.95" fill="#2b2382"/>
<circle cx="508.5" cy="292.6" r="1.95" fill="#2b2382"/>
<line x1="420.6" y1="242" x2="420.6" y2="307" stroke="#111" stroke-width="1.1" />
<line x1="420.1" y1="306.5" x2="509" y2="306.5" stroke="#111" stroke-width="1.1" />
<line x1="425.1" y1="306.5" x2="425.1" y2="309.3" stroke="#111" stroke-width="0.9" />
<line x1="439" y1="306.5" x2="439" y2="309.3" stroke="#111" stroke-width="0.9" />
<line x1="452.9" y1="306.5" x2="452.9" y2="309.3" stroke="#111" stroke-width="0.9" />
<line x1="466.8" y1="306.5" x2="466.8" y2="309.3" stroke="#111" stroke-width="0.9" />
<line x1="480.7" y1="306.5" x2="480.7" y2="309.3" stroke="#111" stroke-width="0.9" />
<line x1="494.6" y1="306.5" x2="494.6" y2="309.3" stroke="#111" stroke-width="0.9" />
<line x1="508.5" y1="306.5" x2="508.5" y2="309.3" stroke="#111" stroke-width="0.9" />
<text transform="translate(425,318.8) rotate(-45)" font-size="5.8" text-anchor="middle" fill="#1a1a1a" letter-spacing="0.45" class="xl">90</text>
<text transform="translate(438.9,318.8) rotate(-45)" font-size="5.8" text-anchor="middle" fill="#1a1a1a" letter-spacing="0.45" class="xl">120</text>
<text transform="translate(452.8,318.8) rotate(-45)" font-size="5.8" text-anchor="middle" fill="#1a1a1a" letter-spacing="0.45" class="xl">150</text>
<text transform="translate(466.7,318.8) rotate(-45)" font-size="5.8" text-anchor="middle" fill="#1a1a1a" letter-spacing="0.45" class="xl">180</text>
<text transform="translate(480.6,318.8) rotate(-45)" font-size="5.8" text-anchor="middle" fill="#1a1a1a" letter-spacing="0.45" class="xl">210</text>
<text transform="translate(494.5,318.8) rotate(-45)" font-size="5.8" text-anchor="middle" fill="#1a1a1a" letter-spacing="0.45" class="xl">240</text>
<text transform="translate(508.4,318.8) rotate(-45)" font-size="5.8" text-anchor="middle" fill="#1a1a1a" letter-spacing="0.45" class="xl">270</text>
<text x="465.35" y="233.5" font-size="8.5" text-anchor="middle" fill="#2a2a2a"><tspan dy="0">CD159c</tspan><tspan font-size="7.2" dy="-3.3">++</tspan><tspan dy="3.3">CD57</tspan><tspan font-size="7.2" dy="-3.3">+</tspan></text>
<circle cx="480.7" cy="238.5" r="1.05" fill="#1a1a1a"/>
<text x="6.8" y="14.6" font-size="10.5" text-anchor="start" fill="#111" font-weight="bold" >A</text>
<text x="7.2" y="125.3" font-size="10.5" text-anchor="start" fill="#111" font-weight="bold" >B</text>
<text x="269.6" y="125.8" font-size="10.5" text-anchor="start" fill="#111" font-weight="bold" >C</text>
<text class="yt" transform="translate(26.2,53.1) rotate(-90)" font-size="7.4" text-anchor="middle" fill="#1a1a1a" textLength="38.4" lengthAdjust="spacingAndGlyphs"><tspan dy="0">CD56</tspan><tspan font-size="6" dy="-2.3">+</tspan><tspan dy="2.3">CD3</tspan><tspan font-size="6" dy="-2.3">−</tspan><tspan dy="2.3">/µL</tspan></text>
<text class="yt" transform="translate(30.6,167.3) rotate(-90)" font-size="7.4" text-anchor="middle" fill="#1a1a1a" textLength="28.5" lengthAdjust="spacingAndGlyphs"><tspan dy="0">CD56</tspan><tspan font-size="4.6" dy="-2.3">dim</tspan><tspan dy="2.3">/µL</tspan></text>
<text class="yt" transform="translate(25,275) rotate(-90)" font-size="7.4" text-anchor="middle" fill="#1a1a1a" textLength="20.8" lengthAdjust="spacingAndGlyphs"><tspan dy="0">CD56</tspan><tspan font-size="4.6" dy="-2.3">dim</tspan></text>
<text class="yt" transform="translate(34.4,277.3) rotate(-90)" font-size="7.4" text-anchor="middle" fill="#1a1a1a" textLength="40.5" lengthAdjust="spacingAndGlyphs"><tspan dy="0">/CD56</tspan><tspan font-size="6" dy="-2.3">+</tspan><tspan dy="2.3">CD3</tspan><tspan font-size="6" dy="-2.3">−</tspan><tspan dy="2.3"> (%)</tspan></text>
<text class="yt" transform="translate(290.6,166.9) rotate(-90)" font-size="7.4" text-anchor="middle" fill="#1a1a1a" textLength="29.2" lengthAdjust="spacingAndGlyphs"><tspan dy="0">CD56</tspan><tspan font-size="4.6" dy="-2.3">dim</tspan><tspan dy="2.3">/µL</tspan></text>
<text class="yt" transform="translate(284.2,275) rotate(-90)" font-size="7.4" text-anchor="middle" fill="#1a1a1a" textLength="20.8" lengthAdjust="spacingAndGlyphs"><tspan dy="0">CD56</tspan><tspan font-size="4.6" dy="-2.3">dim</tspan></text>
<text class="yt" transform="translate(293,276.2) rotate(-90)" font-size="7.4" text-anchor="middle" fill="#1a1a1a" textLength="40" lengthAdjust="spacingAndGlyphs"><tspan dy="0">/CD56</tspan><tspan font-size="6" dy="-2.3">+</tspan><tspan dy="2.3">CD3</tspan><tspan font-size="6" dy="-2.3">−</tspan><tspan dy="2.3"> (%)</tspan></text>
<line x1="394.4" y1="39.8" x2="403.8" y2="39.8" stroke="#2b2382" stroke-width="1.3" />
<circle cx="399.2" cy="39.8" r="1.8" fill="#2b2382"/>
<line x1="394.4" y1="47.2" x2="403.8" y2="47.2" stroke="#cfcfda" stroke-width="1.1" stroke-dasharray="2,1.5"/>
<rect x="397.7" y="45.7" width="3" height="3" fill="#cfcfda"/>
<line x1="394.4" y1="54.1" x2="403.8" y2="54.1" stroke="#b8173c" stroke-width="1.3" />
<circle cx="399.2" cy="54.1" r="1.4" fill="#b8173c"/>
<text x="406.8" y="42" font-size="5.9" text-anchor="start" fill="#1a1a1a" font-weight="normal" class="t">controllers</text>
<text x="406.8" y="49.4" font-size="5.9" text-anchor="start" fill="#1a1a1a" font-weight="normal" class="t" textLength="51.6" lengthAdjust="spacingAndGlyphs">no RI/EOD csCMVi</text>
<text x="406.8" y="56" font-size="5.9" text-anchor="start" fill="#1a1a1a" font-weight="normal" class="t" textLength="37.8" lengthAdjust="spacingAndGlyphs">RI/EOD-CMVi</text>
</svg>
<div style="position:absolute;left:0;top:0;width:518px;height:323px;border:1px solid #666;"></div>
</body></html>
